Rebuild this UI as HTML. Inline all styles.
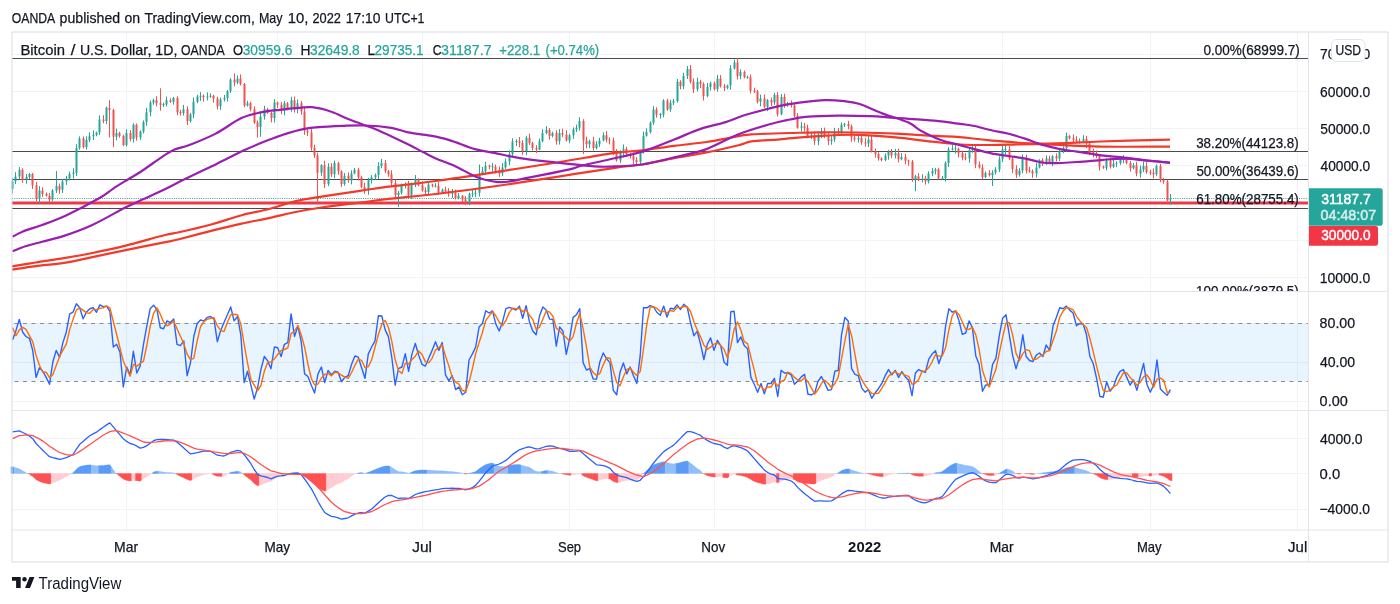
<!DOCTYPE html>
<html><head><meta charset="utf-8"><style>
html,body{margin:0;padding:0;background:#fff;width:1400px;height:604px;overflow:hidden}
svg{display:block;will-change:transform}
text{font-family:"Liberation Sans",sans-serif;stroke:currentColor;stroke-width:0.25px}
</style></head><body>
<svg width="1400" height="604" viewBox="0 0 1400 604">
<line x1="12" y1="54.5" x2="1308" y2="54.5" stroke="#f2f3f5" stroke-width="1"/>
<line x1="12" y1="91.5" x2="1308" y2="91.5" stroke="#f2f3f5" stroke-width="1"/>
<line x1="12" y1="128.5" x2="1308" y2="128.5" stroke="#f2f3f5" stroke-width="1"/>
<line x1="12" y1="165.5" x2="1308" y2="165.5" stroke="#f2f3f5" stroke-width="1"/>
<line x1="12" y1="202.5" x2="1308" y2="202.5" stroke="#f2f3f5" stroke-width="1"/>
<line x1="12" y1="240.5" x2="1308" y2="240.5" stroke="#f2f3f5" stroke-width="1"/>
<line x1="12" y1="277.5" x2="1308" y2="277.5" stroke="#f2f3f5" stroke-width="1"/>
<line x1="12" y1="323.5" x2="1308" y2="323.5" stroke="#f2f3f5" stroke-width="1"/>
<line x1="12" y1="362.5" x2="1308" y2="362.5" stroke="#f2f3f5" stroke-width="1"/>
<line x1="12" y1="401.5" x2="1308" y2="401.5" stroke="#f2f3f5" stroke-width="1"/>
<line x1="12" y1="438.5" x2="1308" y2="438.5" stroke="#f2f3f5" stroke-width="1"/>
<line x1="12" y1="473.5" x2="1308" y2="473.5" stroke="#f2f3f5" stroke-width="1"/>
<line x1="12" y1="509.5" x2="1308" y2="509.5" stroke="#f2f3f5" stroke-width="1"/>
<line x1="126.5" y1="32" x2="126.5" y2="530" stroke="#f2f3f5" stroke-width="1"/>
<line x1="277.5" y1="32" x2="277.5" y2="530" stroke="#f2f3f5" stroke-width="1"/>
<line x1="422.5" y1="32" x2="422.5" y2="530" stroke="#f2f3f5" stroke-width="1"/>
<line x1="569.5" y1="32" x2="569.5" y2="530" stroke="#f2f3f5" stroke-width="1"/>
<line x1="714.5" y1="32" x2="714.5" y2="530" stroke="#f2f3f5" stroke-width="1"/>
<line x1="865.5" y1="32" x2="865.5" y2="530" stroke="#f2f3f5" stroke-width="1"/>
<line x1="1002.5" y1="32" x2="1002.5" y2="530" stroke="#f2f3f5" stroke-width="1"/>
<line x1="1150.5" y1="32" x2="1150.5" y2="530" stroke="#f2f3f5" stroke-width="1"/>
<line x1="1297.5" y1="32" x2="1297.5" y2="530" stroke="#f2f3f5" stroke-width="1"/>
<rect x="12" y="323.2" width="1296" height="58.1" fill="#2196f3" fill-opacity="0.1"/>
<line x1="12" y1="323.5" x2="1308" y2="323.5" stroke="#8a8d96" stroke-width="1" stroke-dasharray="4 4.5" stroke-dashoffset="-2.5"/>
<line x1="12" y1="381.5" x2="1308" y2="381.5" stroke="#8a8d96" stroke-width="1" stroke-dasharray="4 4.5" stroke-dashoffset="-2.5"/>
<path d="M12.6 339.7 L16.0 330.4 L19.3 319.5 L22.7 332.2 L26.0 336.5 L29.4 338.3 L32.7 350.4 L36.1 377.4 L39.4 367.8 L42.8 371.3 L46.2 377.4 L49.5 384.3 L52.9 361.7 L56.2 350.4 L59.6 357.4 L62.9 342.6 L66.3 332.2 L69.7 313.9 L73.0 312.2 L76.4 303.8 L79.7 307.8 L83.1 318.8 L86.4 312.2 L89.8 308.7 L93.1 307.8 L96.5 312.2 L99.9 304.9 L103.2 306.6 L106.6 306.1 L109.9 311.3 L113.3 347.0 L116.6 344.3 L120.0 352.2 L123.3 387.0 L126.7 367.0 L130.1 374.8 L133.4 351.3 L136.8 373.0 L140.1 366.1 L143.5 344.3 L146.8 326.1 L150.2 308.7 L153.6 305.2 L156.9 309.6 L160.3 327.8 L163.6 328.7 L167.0 320.9 L170.3 322.6 L173.7 319.1 L177.0 344.3 L180.4 345.6 L183.8 340.9 L187.1 375.7 L190.5 362.6 L193.8 336.5 L197.2 323.5 L200.5 320.0 L203.9 320.9 L207.2 317.4 L210.6 316.5 L214.0 319.1 L217.3 341.7 L220.7 330.4 L224.0 322.6 L227.4 314.8 L230.7 307.0 L234.1 320.9 L237.5 316.5 L240.8 334.8 L244.2 382.6 L247.5 371.3 L250.9 385.2 L254.2 399.1 L257.6 387.8 L260.9 369.6 L264.3 356.5 L267.7 360.9 L271.0 368.7 L274.4 347.0 L277.7 347.8 L281.1 356.5 L284.4 344.3 L287.8 342.6 L291.1 313.9 L294.5 336.5 L297.9 326.1 L301.2 341.7 L304.6 373.9 L307.9 376.5 L311.3 385.2 L314.6 393.0 L318.0 373.9 L321.4 367.0 L324.7 382.6 L328.1 370.4 L331.4 374.8 L334.8 371.3 L338.1 372.2 L341.5 381.7 L344.8 377.4 L348.2 375.7 L351.6 364.3 L354.9 356.0 L358.3 357.2 L361.6 367.8 L365.0 378.3 L368.3 353.9 L371.7 347.0 L375.0 340.9 L378.4 315.7 L381.8 316.0 L385.1 329.6 L388.5 336.9 L391.8 357.4 L395.2 385.2 L398.5 368.7 L401.9 367.0 L405.3 353.6 L408.6 371.3 L412.0 353.9 L415.3 343.5 L418.7 355.3 L422.0 364.3 L425.4 366.1 L428.7 358.3 L432.1 350.4 L435.5 341.7 L438.8 350.4 L442.2 342.6 L445.5 374.8 L448.9 380.9 L452.2 375.7 L455.6 389.6 L458.9 387.0 L462.3 394.8 L465.7 392.2 L469.0 360.0 L472.4 353.9 L475.7 347.0 L479.1 327.0 L482.4 323.5 L485.8 310.8 L489.2 313.0 L492.5 310.8 L495.9 324.3 L499.2 331.0 L502.6 321.7 L505.9 308.7 L509.3 307.3 L512.6 308.7 L516.0 310.1 L519.4 306.1 L522.7 318.3 L526.1 305.6 L529.4 321.7 L532.8 331.0 L536.1 334.8 L539.5 316.0 L542.8 307.0 L546.2 310.1 L549.6 319.1 L552.9 319.5 L556.3 346.1 L559.6 327.0 L563.0 331.3 L566.3 354.3 L569.7 338.3 L573.1 317.4 L576.4 314.8 L579.8 308.7 L583.1 362.6 L586.5 370.0 L589.8 368.7 L593.2 379.1 L596.5 379.1 L599.9 361.7 L603.3 353.0 L606.6 358.8 L610.0 362.6 L613.3 390.4 L616.7 394.8 L620.0 372.2 L623.4 363.0 L626.7 373.9 L630.1 367.0 L633.5 375.7 L636.8 383.5 L640.2 355.7 L643.5 307.8 L646.9 307.8 L650.2 305.6 L653.6 307.0 L657.0 312.5 L660.3 315.3 L663.7 306.1 L667.0 317.0 L670.4 308.3 L673.7 309.0 L677.1 304.9 L680.4 309.6 L683.8 304.3 L687.2 307.0 L690.5 322.6 L693.9 335.7 L697.2 331.3 L700.6 344.4 L703.9 359.5 L707.3 344.3 L710.6 337.9 L714.0 350.4 L717.4 340.3 L720.7 345.6 L724.1 362.3 L727.4 365.2 L730.8 311.8 L734.1 311.3 L737.5 342.6 L740.9 336.9 L744.2 345.6 L747.6 348.7 L750.9 377.4 L754.3 384.3 L757.6 392.2 L761.0 383.5 L764.3 393.9 L767.7 383.5 L771.1 383.5 L774.4 378.3 L777.8 396.5 L781.1 370.4 L784.5 373.0 L787.8 373.0 L791.2 374.8 L794.5 384.3 L797.9 380.9 L801.3 376.9 L804.6 374.4 L808.0 394.3 L811.3 394.8 L814.7 393.0 L818.0 381.3 L821.4 376.5 L824.8 383.1 L828.1 390.4 L831.5 389.6 L834.8 371.3 L838.2 370.4 L841.5 334.8 L844.9 317.4 L848.2 320.9 L851.6 368.7 L855.0 374.4 L858.3 375.7 L861.7 387.8 L865.0 392.2 L868.4 389.6 L871.7 398.3 L875.1 393.0 L878.4 388.7 L881.8 383.5 L885.2 375.7 L888.5 369.6 L891.9 374.8 L895.2 370.4 L898.6 377.4 L901.9 371.7 L905.3 376.9 L908.7 380.3 L912.0 395.7 L915.4 373.0 L918.7 369.6 L922.1 371.3 L925.4 372.2 L928.8 359.1 L932.1 354.1 L935.5 350.8 L938.9 363.5 L942.2 353.9 L945.6 326.1 L948.9 308.7 L952.3 312.2 L955.6 310.8 L959.0 320.9 L962.3 334.4 L965.7 333.0 L969.1 320.9 L972.4 327.8 L975.8 356.0 L979.1 364.3 L982.5 391.3 L985.8 384.9 L989.2 385.2 L992.6 364.3 L995.9 358.3 L999.3 335.7 L1002.6 318.3 L1006.0 314.8 L1009.3 334.8 L1012.7 355.7 L1016.0 368.7 L1019.4 357.4 L1022.8 334.8 L1026.1 356.5 L1029.5 360.5 L1032.8 361.7 L1036.2 355.3 L1039.5 353.0 L1042.9 356.5 L1046.2 345.0 L1049.6 350.4 L1053.0 326.1 L1056.3 317.4 L1059.7 307.8 L1063.0 308.7 L1066.4 306.1 L1069.7 310.1 L1073.1 313.0 L1076.5 325.7 L1079.8 323.5 L1083.2 324.3 L1086.5 334.8 L1089.9 356.5 L1093.2 363.5 L1096.6 378.3 L1099.9 396.5 L1103.3 397.0 L1106.7 381.7 L1110.0 391.3 L1113.4 387.0 L1116.7 377.4 L1120.1 371.3 L1123.4 369.6 L1126.8 377.4 L1130.1 385.2 L1133.5 380.0 L1136.9 390.4 L1140.2 376.5 L1143.6 363.5 L1146.9 384.3 L1150.3 392.2 L1153.6 385.0 L1157.0 360.0 L1160.4 389.0 L1163.7 392.2 L1167.1 395.3 L1170.4 389.6" stroke="#2962ff" stroke-width="1.4" fill="none" stroke-linejoin="round"/>
<path d="M12.6 327.8 L16.0 335.7 L19.3 329.9 L22.7 327.4 L26.0 329.4 L29.4 335.7 L32.7 341.7 L36.1 355.4 L39.4 365.2 L42.8 372.2 L46.2 372.2 L49.5 377.7 L52.9 374.5 L56.2 365.5 L59.6 356.5 L62.9 350.1 L66.3 344.1 L69.7 329.6 L73.0 319.4 L76.4 310.0 L79.7 307.9 L83.1 310.1 L86.4 312.9 L89.8 313.2 L93.1 309.6 L96.5 309.6 L99.9 308.3 L103.2 307.9 L106.6 305.9 L109.9 308.0 L113.3 321.5 L116.6 334.2 L120.0 347.8 L123.3 361.2 L126.7 368.7 L130.1 376.3 L133.4 364.4 L136.8 366.4 L140.1 363.5 L143.5 361.1 L146.8 345.5 L150.2 326.4 L153.6 313.3 L156.9 307.8 L160.3 314.2 L163.6 322.0 L167.0 325.8 L170.3 324.1 L173.7 320.9 L177.0 328.7 L180.4 336.3 L183.8 343.6 L187.1 354.1 L190.5 359.7 L193.8 358.3 L197.2 340.9 L200.5 326.7 L203.9 321.5 L207.2 319.4 L210.6 318.3 L214.0 317.7 L217.3 325.8 L220.7 330.4 L224.0 331.6 L227.4 322.6 L230.7 314.8 L234.1 314.2 L237.5 314.8 L240.8 324.1 L244.2 344.6 L247.5 362.9 L250.9 379.7 L254.2 385.2 L257.6 390.7 L260.9 385.5 L264.3 371.3 L267.7 362.3 L271.0 362.0 L274.4 358.9 L277.7 354.5 L281.1 350.4 L284.4 349.5 L287.8 347.8 L291.1 333.6 L294.5 331.0 L297.9 325.5 L301.2 334.8 L304.6 347.2 L307.9 364.0 L311.3 378.5 L314.6 384.9 L318.0 384.0 L321.4 378.0 L324.7 374.5 L328.1 373.3 L331.4 375.9 L334.8 372.2 L338.1 372.8 L341.5 375.1 L344.8 377.1 L348.2 378.3 L351.6 372.5 L354.9 365.3 L358.3 359.2 L361.6 360.3 L365.0 367.8 L368.3 366.7 L371.7 359.7 L375.0 347.3 L378.4 334.5 L381.8 324.2 L385.1 320.4 L388.5 327.5 L391.8 341.3 L395.2 359.8 L398.5 370.4 L401.9 373.6 L405.3 363.1 L408.6 364.0 L412.0 359.6 L415.3 356.2 L418.7 350.9 L422.0 354.4 L425.4 361.9 L428.7 362.9 L432.1 358.3 L435.5 350.1 L438.8 347.5 L442.2 344.9 L445.5 355.9 L448.9 366.1 L452.2 377.1 L455.6 382.1 L458.9 384.1 L462.3 390.5 L465.7 391.3 L469.0 382.3 L472.4 368.7 L475.7 353.6 L479.1 342.6 L482.4 332.5 L485.8 320.4 L489.2 315.8 L492.5 311.5 L495.9 316.0 L499.2 322.0 L502.6 325.7 L505.9 320.5 L509.3 312.6 L512.6 308.2 L516.0 308.7 L519.4 308.3 L522.7 311.5 L526.1 310.0 L529.4 315.2 L532.8 319.4 L536.1 329.2 L539.5 327.3 L542.8 319.3 L546.2 311.0 L549.6 312.1 L552.9 316.2 L556.3 328.2 L559.6 330.9 L563.0 334.8 L566.3 337.5 L569.7 341.3 L573.1 336.7 L576.4 323.5 L579.8 313.6 L583.1 328.7 L586.5 347.1 L589.8 367.1 L593.2 372.6 L596.5 375.6 L599.9 373.3 L603.3 364.6 L606.6 357.8 L610.0 358.1 L613.3 370.6 L616.7 382.6 L620.0 385.8 L623.4 376.7 L626.7 369.7 L630.1 368.0 L633.5 372.2 L636.8 375.4 L640.2 371.6 L643.5 349.0 L646.9 323.8 L650.2 307.1 L653.6 306.8 L657.0 308.4 L660.3 311.6 L663.7 311.3 L667.0 312.8 L670.4 310.5 L673.7 311.4 L677.1 307.4 L680.4 307.8 L683.8 306.3 L687.2 307.0 L690.5 311.3 L693.9 321.8 L697.2 329.9 L700.6 337.1 L703.9 345.1 L707.3 349.4 L710.6 347.2 L714.0 344.2 L717.4 342.9 L720.7 345.4 L724.1 349.4 L727.4 357.7 L730.8 346.4 L734.1 329.4 L737.5 321.9 L740.9 330.3 L744.2 341.7 L747.6 343.7 L750.9 357.2 L754.3 370.1 L757.6 384.6 L761.0 386.7 L764.3 389.9 L767.7 387.0 L771.1 387.0 L774.4 381.8 L777.8 386.1 L781.1 381.7 L784.5 380.0 L787.8 372.1 L791.2 373.6 L794.5 377.4 L797.9 380.0 L801.3 380.7 L804.6 377.4 L808.0 381.9 L811.3 387.8 L814.7 394.0 L818.0 389.7 L821.4 383.6 L824.8 380.3 L828.1 383.3 L831.5 387.7 L834.8 383.8 L838.2 377.1 L841.5 358.8 L844.9 340.9 L848.2 324.4 L851.6 335.7 L855.0 354.7 L858.3 372.9 L861.7 379.3 L865.0 385.2 L868.4 389.9 L871.7 393.4 L875.1 393.6 L878.4 393.3 L881.8 388.4 L885.2 382.6 L888.5 376.3 L891.9 373.4 L895.2 371.6 L898.6 374.2 L901.9 373.2 L905.3 375.3 L908.7 376.3 L912.0 384.3 L915.4 383.0 L918.7 379.4 L922.1 371.3 L925.4 371.0 L928.8 367.5 L932.1 361.8 L935.5 354.7 L938.9 356.1 L942.2 356.1 L945.6 347.8 L948.9 329.6 L952.3 315.7 L955.6 310.6 L959.0 314.6 L962.3 322.0 L965.7 329.4 L969.1 329.4 L972.4 327.2 L975.8 334.9 L979.1 349.4 L982.5 370.5 L985.8 380.2 L989.2 387.1 L992.6 378.1 L995.9 369.3 L999.3 352.8 L1002.6 337.4 L1006.0 322.9 L1009.3 322.6 L1012.7 335.1 L1016.0 353.1 L1019.4 360.6 L1022.8 353.6 L1026.1 349.6 L1029.5 350.6 L1032.8 359.6 L1036.2 359.2 L1039.5 356.7 L1042.9 354.9 L1046.2 351.5 L1049.6 350.6 L1053.0 340.5 L1056.3 331.3 L1059.7 317.1 L1063.0 311.3 L1066.4 307.5 L1069.7 308.3 L1073.1 309.7 L1076.5 316.3 L1079.8 320.7 L1083.2 324.5 L1086.5 327.5 L1089.9 338.5 L1093.2 351.6 L1096.6 366.1 L1099.9 379.4 L1103.3 390.6 L1106.7 391.7 L1110.0 390.0 L1113.4 386.7 L1116.7 385.2 L1120.1 378.6 L1123.4 372.8 L1126.8 372.8 L1130.1 377.4 L1133.5 380.9 L1136.9 385.2 L1140.2 382.3 L1143.6 376.8 L1146.9 374.8 L1150.3 380.0 L1153.6 387.2 L1157.0 379.1 L1160.4 378.0 L1163.7 380.4 L1167.1 392.2 L1170.4 392.4" stroke="#ff6d00" stroke-width="1.4" fill="none" stroke-linejoin="round"/>
<path d="M10.92 473.5L10.92 466.73L12.60 466.73L14.28 467.21L14.28 473.5ZM71.33 473.5L71.33 473.50L73.01 472.82L74.69 471.01L74.69 473.5ZM74.69 473.5L74.69 471.01L76.36 469.19L78.04 467.84L78.04 473.5ZM78.04 473.5L78.04 467.84L79.72 466.48L81.40 466.10L81.40 473.5ZM81.40 473.5L81.40 466.10L83.08 465.72L84.75 465.41L84.75 473.5ZM84.75 473.5L84.75 465.41L86.43 465.10L88.11 464.95L88.11 473.5ZM88.11 473.5L88.11 464.95L89.79 464.80L91.47 465.02L91.47 473.5ZM98.18 473.5L98.18 465.73L99.86 465.59L101.53 465.49L101.53 473.5ZM101.53 473.5L101.53 465.49L103.21 465.39L104.89 465.22L104.89 473.5ZM104.89 473.5L104.89 465.22L106.57 465.05L108.25 464.87L108.25 473.5ZM108.25 473.5L108.25 464.87L109.92 464.70L111.60 467.16L111.60 473.5ZM151.87 473.5L151.87 473.16L153.55 471.95L155.23 471.54L155.23 473.5ZM155.23 473.5L155.23 471.54L156.91 471.13L158.59 471.26L158.59 473.5ZM229.06 473.5L229.06 473.20L230.74 472.20L232.42 471.94L232.42 473.5ZM232.42 473.5L232.42 471.94L234.10 471.69L235.77 471.44L235.77 473.5ZM235.77 473.5L235.77 471.44L237.45 471.19L239.13 471.55L239.13 473.5ZM289.47 473.5L289.47 473.38L291.15 472.84L292.83 472.71L292.83 473.5ZM292.83 473.5L292.83 472.71L294.50 472.58L296.18 472.50L296.18 473.5ZM296.18 473.5L296.18 472.50L297.86 472.43L299.54 473.15L299.54 473.5ZM356.59 473.5L356.59 473.50L358.27 472.93L359.95 472.77L359.95 473.5ZM359.95 473.5L359.95 472.77L361.62 472.60L363.30 472.99L363.30 473.5ZM366.66 473.5L366.66 472.82L368.34 472.27L370.01 471.64L370.01 473.5ZM370.01 473.5L370.01 471.64L371.69 471.00L373.37 470.30L373.37 473.5ZM373.37 473.5L373.37 470.30L375.05 469.59L376.73 468.86L376.73 473.5ZM376.73 473.5L376.73 468.86L378.40 468.13L380.08 467.57L380.08 473.5ZM380.08 473.5L380.08 467.57L381.76 467.01L383.44 466.49L383.44 473.5ZM383.44 473.5L383.44 466.49L385.12 465.96L386.79 465.89L386.79 473.5ZM386.79 473.5L386.79 465.89L388.47 465.83L390.15 466.62L390.15 473.5ZM410.29 473.5L410.29 472.65L411.96 472.06L413.64 471.36L413.64 473.5ZM413.64 473.5L413.64 471.36L415.32 470.66L417.00 470.42L417.00 473.5ZM417.00 473.5L417.00 470.42L418.68 470.18L420.35 470.10L420.35 473.5ZM420.35 473.5L420.35 470.10L422.03 470.01L423.71 469.99L423.71 473.5ZM423.71 473.5L423.71 469.99L425.39 469.98L427.07 470.04L427.07 473.5ZM467.34 473.5L467.34 473.50L469.02 473.34L470.69 472.96L470.69 473.5ZM470.69 473.5L470.69 472.96L472.37 472.57L474.05 472.02L474.05 473.5ZM474.05 473.5L474.05 472.02L475.73 471.47L477.41 470.11L477.41 473.5ZM477.41 473.5L477.41 470.11L479.08 468.74L480.76 467.61L480.76 473.5ZM480.76 473.5L480.76 467.61L482.44 466.48L484.12 465.48L484.12 473.5ZM484.12 473.5L484.12 465.48L485.80 464.48L487.47 463.99L487.47 473.5ZM487.47 473.5L487.47 463.99L489.15 463.49L490.83 463.23L490.83 473.5ZM490.83 473.5L490.83 463.23L492.51 462.98L494.19 463.91L494.19 473.5ZM507.61 473.5L507.61 466.07L509.29 465.59L510.97 465.17L510.97 473.5ZM510.97 473.5L510.97 465.17L512.64 464.74L514.32 464.65L514.32 473.5ZM514.32 473.5L514.32 464.65L516.00 464.55L517.68 464.52L517.68 473.5ZM517.68 473.5L517.68 464.52L519.36 464.50L521.03 465.04L521.03 473.5ZM541.17 473.5L541.17 471.41L542.85 471.13L544.53 470.79L544.53 473.5ZM544.53 473.5L544.53 470.79L546.20 470.46L547.88 470.55L547.88 473.5ZM641.85 473.5L641.85 473.50L643.53 473.49L645.21 471.98L645.21 473.5ZM645.21 473.5L645.21 471.98L646.88 470.46L648.56 469.02L648.56 473.5ZM648.56 473.5L648.56 469.02L650.24 467.59L651.92 466.23L651.92 473.5ZM651.92 473.5L651.92 466.23L653.60 464.86L655.27 464.19L655.27 473.5ZM655.27 473.5L655.27 464.19L656.95 463.52L658.63 463.02L658.63 473.5ZM658.63 473.5L658.63 463.02L660.31 462.52L661.99 462.09L661.99 473.5ZM661.99 473.5L661.99 462.09L663.66 461.66L665.34 462.06L665.34 473.5ZM675.41 473.5L675.41 463.59L677.09 463.26L678.77 462.92L678.77 473.5ZM678.77 473.5L678.77 462.92L680.44 462.59L682.12 462.04L682.12 473.5ZM682.12 473.5L682.12 462.04L683.80 461.49L685.48 461.18L685.48 473.5ZM685.48 473.5L685.48 461.18L687.16 460.87L688.83 461.97L688.83 473.5ZM836.50 473.5L836.50 473.50L838.18 472.82L839.85 471.69L839.85 473.5ZM839.85 473.5L839.85 471.69L841.53 470.55L843.21 469.93L843.21 473.5ZM843.21 473.5L843.21 469.93L844.89 469.31L846.57 468.98L846.57 473.5ZM846.57 473.5L846.57 468.98L848.24 468.64L849.92 469.29L849.92 473.5ZM896.91 473.5L896.91 473.50L898.58 473.47L900.26 473.43L900.26 473.5ZM900.26 473.5L900.26 473.43L901.94 473.39L903.62 473.36L903.62 473.5ZM903.62 473.5L903.62 473.36L905.30 473.34L906.97 473.15L906.97 473.5ZM906.97 473.5L906.97 473.15L908.65 472.97L910.33 473.50L910.33 473.5ZM933.82 473.5L933.82 473.44L935.50 472.77L937.18 472.59L937.18 473.5ZM937.18 473.5L937.18 472.59L938.86 472.42L940.53 472.01L940.53 473.5ZM940.53 473.5L940.53 472.01L942.21 471.60L943.89 470.27L943.89 473.5ZM943.89 473.5L943.89 470.27L945.57 468.94L947.25 467.69L947.25 473.5ZM947.25 473.5L947.25 467.69L948.92 466.44L950.60 465.46L950.60 473.5ZM950.60 473.5L950.60 465.46L952.28 464.47L953.96 463.77L953.96 473.5ZM953.96 473.5L953.96 463.77L955.64 463.08L957.31 463.46L957.31 473.5ZM997.59 473.5L997.59 473.50L999.26 473.31L1000.94 472.27L1000.94 473.5ZM1000.94 473.5L1000.94 472.27L1002.62 471.23L1004.30 470.14L1004.30 473.5ZM1004.30 473.5L1004.30 470.14L1005.98 469.05L1007.65 469.32L1007.65 473.5ZM1037.86 473.5L1037.86 473.50L1039.54 473.43L1041.21 473.15L1041.21 473.5ZM1041.21 473.5L1041.21 473.15L1042.89 472.87L1044.57 472.65L1044.57 473.5ZM1044.57 473.5L1044.57 472.65L1046.25 472.43L1047.93 472.18L1047.93 473.5ZM1047.93 473.5L1047.93 472.18L1049.60 471.93L1051.28 471.78L1051.28 473.5ZM1051.28 473.5L1051.28 471.78L1052.96 471.64L1054.64 471.45L1054.64 473.5ZM1054.64 473.5L1054.64 471.45L1056.32 471.25L1057.99 470.79L1057.99 473.5ZM1057.99 473.5L1057.99 470.79L1059.67 470.33L1061.35 469.82L1061.35 473.5ZM1061.35 473.5L1061.35 469.82L1063.03 469.30L1064.71 468.58L1064.71 473.5ZM1064.71 473.5L1064.71 468.58L1066.38 467.86L1068.06 467.48L1068.06 473.5ZM1068.06 473.5L1068.06 467.48L1069.74 467.10L1071.42 467.02L1071.42 473.5ZM1071.42 473.5L1071.42 467.02L1073.10 466.94L1074.77 467.50L1074.77 473.5Z" fill="#5b9cf6" stroke="#5b9cf6" stroke-width="0.3"/>
<path d="M14.28 473.5L14.28 467.21L15.96 467.70L17.63 468.21L17.63 473.5ZM17.63 473.5L17.63 468.21L19.31 468.72L20.99 469.71L20.99 473.5ZM20.99 473.5L20.99 469.71L22.67 470.70L24.35 471.69L24.35 473.5ZM24.35 473.5L24.35 471.69L26.02 472.68L27.70 473.47L27.70 473.5ZM91.47 473.5L91.47 465.02L93.14 465.24L94.82 465.55L94.82 473.5ZM94.82 473.5L94.82 465.55L96.50 465.86L98.18 465.73L98.18 473.5ZM111.60 473.5L111.60 467.16L113.28 469.61L114.96 471.68L114.96 473.5ZM158.59 473.5L158.59 471.26L160.26 471.39L161.94 471.66L161.94 473.5ZM161.94 473.5L161.94 471.66L163.62 471.94L165.30 472.24L165.30 473.5ZM165.30 473.5L165.30 472.24L166.98 472.54L168.65 472.58L168.65 473.5ZM168.65 473.5L168.65 472.58L170.33 472.62L172.01 472.66L172.01 473.5ZM172.01 473.5L172.01 472.66L173.69 472.70L175.37 473.50L175.37 473.5ZM239.13 473.5L239.13 471.55L240.81 471.92L242.49 473.38L242.49 473.5ZM363.30 473.5L363.30 472.99L364.98 473.37L366.66 472.82L366.66 473.5ZM390.15 473.5L390.15 466.62L391.83 467.42L393.51 468.57L393.51 473.5ZM393.51 473.5L393.51 468.57L395.18 469.73L396.86 470.64L396.86 473.5ZM396.86 473.5L396.86 470.64L398.54 471.55L400.22 471.64L400.22 473.5ZM400.22 473.5L400.22 471.64L401.90 471.74L403.57 472.00L403.57 473.5ZM403.57 473.5L403.57 472.00L405.25 472.26L406.93 472.75L406.93 473.5ZM406.93 473.5L406.93 472.75L408.61 473.24L410.29 472.65L410.29 473.5ZM427.07 473.5L427.07 470.04L428.74 470.11L430.42 470.21L430.42 473.5ZM430.42 473.5L430.42 470.21L432.10 470.32L433.78 470.43L433.78 473.5ZM433.78 473.5L433.78 470.43L435.46 470.55L437.13 470.67L437.13 473.5ZM437.13 473.5L437.13 470.67L438.81 470.79L440.49 470.79L440.49 473.5ZM440.49 473.5L440.49 470.79L442.17 470.79L443.85 470.91L443.85 473.5ZM443.85 473.5L443.85 470.91L445.52 471.04L447.20 471.24L447.20 473.5ZM447.20 473.5L447.20 471.24L448.88 471.45L450.56 471.52L450.56 473.5ZM450.56 473.5L450.56 471.52L452.24 471.59L453.91 471.80L453.91 473.5ZM453.91 473.5L453.91 471.80L455.59 472.00L457.27 472.24L457.27 473.5ZM457.27 473.5L457.27 472.24L458.95 472.47L460.63 472.86L460.63 473.5ZM460.63 473.5L460.63 472.86L462.30 473.25L463.98 473.50L463.98 473.5ZM494.19 473.5L494.19 463.91L495.86 464.84L497.54 465.60L497.54 473.5ZM497.54 473.5L497.54 465.60L499.22 466.35L500.90 466.44L500.90 473.5ZM500.90 473.5L500.90 466.44L502.58 466.53L504.25 466.54L504.25 473.5ZM504.25 473.5L504.25 466.54L505.93 466.55L507.61 466.07L507.61 473.5ZM521.03 473.5L521.03 465.04L522.71 465.59L524.39 465.99L524.39 473.5ZM524.39 473.5L524.39 465.99L526.07 466.40L527.75 466.79L527.75 473.5ZM527.75 473.5L527.75 466.79L529.42 467.18L531.10 468.33L531.10 473.5ZM531.10 473.5L531.10 468.33L532.78 469.47L534.46 470.47L534.46 473.5ZM534.46 473.5L534.46 470.47L536.14 471.47L537.81 471.58L537.81 473.5ZM537.81 473.5L537.81 471.58L539.49 471.70L541.17 471.41L541.17 473.5ZM547.88 473.5L547.88 470.55L549.56 470.64L551.24 470.97L551.24 473.5ZM551.24 473.5L551.24 470.97L552.92 471.31L554.59 471.90L554.59 473.5ZM554.59 473.5L554.59 471.90L556.27 472.49L557.95 472.99L557.95 473.5ZM557.95 473.5L557.95 472.99L559.63 473.49L561.31 473.50L561.31 473.5ZM665.34 473.5L665.34 462.06L667.02 462.46L668.70 462.94L668.70 473.5ZM668.70 473.5L668.70 462.94L670.38 463.42L672.05 463.67L672.05 473.5ZM672.05 473.5L672.05 463.67L673.73 463.92L675.41 463.59L675.41 473.5ZM688.83 473.5L688.83 461.97L690.51 463.07L692.19 464.35L692.19 473.5ZM692.19 473.5L692.19 464.35L693.87 465.63L695.55 467.07L695.55 473.5ZM695.55 473.5L695.55 467.07L697.22 468.51L698.90 469.60L698.90 473.5ZM698.90 473.5L698.90 469.60L700.58 470.68L702.26 472.17L702.26 473.5ZM849.92 473.5L849.92 469.29L851.60 469.94L853.28 470.48L853.28 473.5ZM853.28 473.5L853.28 470.48L854.96 471.02L856.63 471.56L856.63 473.5ZM856.63 473.5L856.63 471.56L858.31 472.10L859.99 472.55L859.99 473.5ZM859.99 473.5L859.99 472.55L861.67 473.00L863.35 473.19L863.35 473.5ZM863.35 473.5L863.35 473.19L865.02 473.38L866.70 473.50L866.70 473.5ZM957.31 473.5L957.31 463.46L958.99 463.84L960.67 464.22L960.67 473.5ZM960.67 473.5L960.67 464.22L962.35 464.59L964.03 464.92L964.03 473.5ZM964.03 473.5L964.03 464.92L965.70 465.25L967.38 465.49L967.38 473.5ZM967.38 473.5L967.38 465.49L969.06 465.73L970.74 466.12L970.74 473.5ZM970.74 473.5L970.74 466.12L972.42 466.51L974.09 467.53L974.09 473.5ZM974.09 473.5L974.09 467.53L975.77 468.55L977.45 469.94L977.45 473.5ZM977.45 473.5L977.45 469.94L979.13 471.32L980.81 472.43L980.81 473.5ZM1007.65 473.5L1007.65 469.32L1009.33 469.59L1011.01 470.33L1011.01 473.5ZM1011.01 473.5L1011.01 470.33L1012.69 471.06L1014.37 472.32L1014.37 473.5ZM1074.77 473.5L1074.77 467.50L1076.45 468.05L1078.13 468.51L1078.13 473.5ZM1078.13 473.5L1078.13 468.51L1079.81 468.97L1081.49 469.38L1081.49 473.5ZM1081.49 473.5L1081.49 469.38L1083.16 469.80L1084.84 470.33L1084.84 473.5ZM1084.84 473.5L1084.84 470.33L1086.52 470.86L1088.20 471.50L1088.20 473.5ZM1088.20 473.5L1088.20 471.50L1089.88 472.14L1091.55 473.00L1091.55 473.5Z" fill="#91bff9" stroke="#91bff9" stroke-width="0.3"/>
<path d="M27.70 473.5L27.70 473.50L29.38 474.27L31.06 475.38L31.06 473.5ZM31.06 473.5L31.06 475.38L32.74 476.50L34.41 478.08L34.41 473.5ZM34.41 473.5L34.41 478.08L36.09 479.66L37.77 480.58L37.77 473.5ZM37.77 473.5L37.77 480.58L39.45 481.51L41.13 482.12L41.13 473.5ZM41.13 473.5L41.13 482.12L42.80 482.74L44.48 483.12L44.48 473.5ZM44.48 473.5L44.48 483.12L46.16 483.49L47.84 483.76L47.84 473.5ZM47.84 473.5L47.84 483.76L49.52 484.03L51.19 483.41L51.19 473.5ZM114.96 473.5L114.96 473.50L116.64 473.75L118.31 475.10L118.31 473.5ZM118.31 473.5L118.31 475.10L119.99 476.46L121.67 477.82L121.67 473.5ZM121.67 473.5L121.67 477.82L123.35 479.18L125.03 479.80L125.03 473.5ZM125.03 473.5L125.03 479.80L126.70 480.42L128.38 480.75L128.38 473.5ZM128.38 473.5L128.38 480.75L130.06 481.09L131.74 480.79L131.74 473.5ZM135.09 473.5L135.09 480.61L136.77 480.74L138.45 480.94L138.45 473.5ZM138.45 473.5L138.45 480.94L140.13 481.14L141.81 479.99L141.81 473.5ZM175.37 473.5L175.37 473.63L177.04 474.55L178.72 475.39L178.72 473.5ZM178.72 473.5L178.72 475.39L180.40 476.23L182.08 477.03L182.08 473.5ZM182.08 473.5L182.08 477.03L183.76 477.84L185.43 478.64L185.43 473.5ZM185.43 473.5L185.43 478.64L187.11 479.45L188.79 480.12L188.79 473.5ZM188.79 473.5L188.79 480.12L190.47 480.78L192.15 479.75L192.15 473.5ZM212.28 473.5L212.28 474.28L213.96 474.97L215.64 475.65L215.64 473.5ZM215.64 473.5L215.64 475.65L217.32 476.34L218.99 476.36L218.99 473.5ZM218.99 473.5L218.99 476.36L220.67 476.38L222.35 476.31L222.35 473.5ZM242.49 473.5L242.49 473.50L244.16 474.85L245.84 476.19L245.84 473.5ZM245.84 473.5L245.84 476.19L247.52 477.53L249.20 478.82L249.20 473.5ZM249.20 473.5L249.20 478.82L250.88 480.11L252.55 481.85L252.55 473.5ZM252.55 473.5L252.55 481.85L254.23 483.59L255.91 484.73L255.91 473.5ZM255.91 473.5L255.91 484.73L257.59 485.87L259.27 485.40L259.27 473.5ZM299.54 473.5L299.54 473.50L301.22 473.88L302.89 475.15L302.89 473.5ZM302.89 473.5L302.89 475.15L304.57 476.43L306.25 477.83L306.25 473.5ZM306.25 473.5L306.25 477.83L307.93 479.23L309.61 480.61L309.61 473.5ZM309.61 473.5L309.61 480.61L311.28 482.00L312.96 483.25L312.96 473.5ZM312.96 473.5L312.96 483.25L314.64 484.51L316.32 486.03L316.32 473.5ZM316.32 473.5L316.32 486.03L318.00 487.56L319.67 488.65L319.67 473.5ZM319.67 473.5L319.67 488.65L321.35 489.73L323.03 490.48L323.03 473.5ZM323.03 473.5L323.03 490.48L324.71 491.23L326.39 490.40L326.39 473.5ZM463.98 473.5L463.98 473.71L465.66 474.16L467.34 473.75L467.34 473.5ZM561.31 473.5L561.31 473.79L562.98 474.08L564.66 474.39L564.66 473.5ZM564.66 473.5L564.66 474.39L566.34 474.70L568.02 475.00L568.02 473.5ZM568.02 473.5L568.02 475.00L569.70 475.30L571.37 475.12L571.37 473.5ZM581.44 473.5L581.44 474.74L583.12 475.73L584.80 476.49L584.80 473.5ZM584.80 473.5L584.80 476.49L586.48 477.24L588.15 477.86L588.15 473.5ZM588.15 473.5L588.15 477.86L589.83 478.47L591.51 479.08L591.51 473.5ZM591.51 473.5L591.51 479.08L593.19 479.69L594.87 480.36L594.87 473.5ZM594.87 473.5L594.87 480.36L596.54 481.03L598.22 480.55L598.22 473.5ZM608.29 473.5L608.29 478.90L609.97 479.06L611.65 480.29L611.65 473.5ZM611.65 473.5L611.65 480.29L613.32 481.52L615.00 482.08L615.00 473.5ZM615.00 473.5L615.00 482.08L616.68 482.64L618.36 482.41L618.36 473.5ZM702.26 473.5L702.26 473.50L703.94 473.65L705.61 474.65L705.61 473.5ZM705.61 473.5L705.61 474.65L707.29 475.65L708.97 476.05L708.97 473.5ZM708.97 473.5L708.97 476.05L710.65 476.45L712.33 476.73L712.33 473.5ZM712.33 473.5L712.33 476.73L714.00 477.01L715.68 476.88L715.68 473.5ZM722.39 473.5L722.39 477.11L724.07 477.70L725.75 477.87L725.75 473.5ZM725.75 473.5L725.75 477.87L727.43 478.05L729.11 476.70L729.11 473.5ZM735.82 473.5L735.82 474.52L737.50 474.95L739.17 475.24L739.17 473.5ZM739.17 473.5L739.17 475.24L740.85 475.53L742.53 475.93L742.53 473.5ZM742.53 473.5L742.53 475.93L744.21 476.33L745.89 476.96L745.89 473.5ZM745.89 473.5L745.89 476.96L747.56 477.59L749.24 478.56L749.24 473.5ZM749.24 473.5L749.24 478.56L750.92 479.53L752.60 480.47L752.60 473.5ZM752.60 473.5L752.60 480.47L754.28 481.41L755.95 482.02L755.95 473.5ZM755.95 473.5L755.95 482.02L757.63 482.63L759.31 483.07L759.31 473.5ZM759.31 473.5L759.31 483.07L760.99 483.51L762.67 483.89L762.67 473.5ZM762.67 473.5L762.67 483.89L764.34 484.27L766.02 484.20L766.02 473.5ZM776.09 473.5L776.09 482.23L777.77 482.79L779.45 481.98L779.45 473.5ZM792.87 473.5L792.87 479.13L794.55 479.67L796.23 480.82L796.23 473.5ZM796.23 473.5L796.23 480.82L797.90 481.97L799.58 482.36L799.58 473.5ZM799.58 473.5L799.58 482.36L801.26 482.75L802.94 483.12L802.94 473.5ZM802.94 473.5L802.94 483.12L804.62 483.48L806.29 483.55L806.29 473.5ZM806.29 473.5L806.29 483.55L807.97 483.62L809.65 483.76L809.65 473.5ZM809.65 473.5L809.65 483.76L811.33 483.89L813.01 483.91L813.01 473.5ZM813.01 473.5L813.01 483.91L814.68 483.92L816.36 482.93L816.36 473.5ZM866.70 473.5L866.70 473.61L868.38 473.85L870.06 474.33L870.06 473.5ZM870.06 473.5L870.06 474.33L871.74 474.81L873.41 475.17L873.41 473.5ZM873.41 473.5L873.41 475.17L875.09 475.53L876.77 475.91L876.77 473.5ZM876.77 473.5L876.77 475.91L878.45 476.30L880.13 476.52L880.13 473.5ZM880.13 473.5L880.13 476.52L881.80 476.74L883.48 476.50L883.48 473.5ZM910.33 473.5L910.33 473.82L912.01 474.68L913.69 475.20L913.69 473.5ZM913.69 473.5L913.69 475.20L915.36 475.72L917.04 476.03L917.04 473.5ZM917.04 473.5L917.04 476.03L918.72 476.34L920.40 476.34L920.40 473.5ZM920.40 473.5L920.40 476.34L922.08 476.34L923.75 476.21L923.75 473.5ZM980.81 473.5L980.81 473.50L982.48 473.53L984.16 474.11L984.16 473.5ZM984.16 473.5L984.16 474.11L985.84 474.69L987.52 475.13L987.52 473.5ZM987.52 473.5L987.52 475.13L989.20 475.57L990.87 475.58L990.87 473.5ZM990.87 473.5L990.87 475.58L992.55 475.59L994.23 475.47L994.23 473.5ZM1014.37 473.5L1014.37 473.50L1016.04 473.59L1017.72 473.88L1017.72 473.5ZM1017.72 473.5L1017.72 473.88L1019.40 474.17L1021.08 473.85L1021.08 473.5ZM1024.43 473.5L1024.43 473.60L1026.11 473.67L1027.79 473.80L1027.79 473.5ZM1027.79 473.5L1027.79 473.80L1029.47 473.93L1031.15 474.18L1031.15 473.5ZM1031.15 473.5L1031.15 474.18L1032.82 474.43L1034.50 474.29L1034.50 473.5ZM1091.55 473.5L1091.55 473.50L1093.23 473.85L1094.91 474.58L1094.91 473.5ZM1094.91 473.5L1094.91 474.58L1096.59 475.30L1098.27 476.54L1098.27 473.5ZM1098.27 473.5L1098.27 476.54L1099.94 477.77L1101.62 478.38L1101.62 473.5ZM1101.62 473.5L1101.62 478.38L1103.30 478.99L1104.98 479.39L1104.98 473.5ZM1104.98 473.5L1104.98 479.39L1106.66 479.79L1108.33 479.61L1108.33 473.5ZM1131.83 473.5L1131.83 476.74L1133.50 476.92L1135.18 477.00L1135.18 473.5ZM1135.18 473.5L1135.18 477.00L1136.86 477.08L1138.54 476.87L1138.54 473.5ZM1148.61 473.5L1148.61 476.01L1150.28 476.07L1151.96 475.75L1151.96 473.5ZM1158.67 473.5L1158.67 474.90L1160.35 475.15L1162.03 475.70L1162.03 473.5ZM1162.03 473.5L1162.03 475.70L1163.71 476.25L1165.39 477.24L1165.39 473.5ZM1165.39 473.5L1165.39 477.24L1167.06 478.23L1168.74 479.52L1168.74 473.5ZM1168.74 473.5L1168.74 479.52L1170.42 480.80L1172.10 480.80L1172.10 473.5Z" fill="#ff5252" stroke="#ff5252" stroke-width="0.3"/>
<path d="M51.19 473.5L51.19 483.41L52.87 482.79L54.55 482.14L54.55 473.5ZM54.55 473.5L54.55 482.14L56.23 481.49L57.91 480.87L57.91 473.5ZM57.91 473.5L57.91 480.87L59.58 480.25L61.26 479.34L61.26 473.5ZM61.26 473.5L61.26 479.34L62.94 478.43L64.62 477.38L64.62 473.5ZM64.62 473.5L64.62 477.38L66.30 476.33L67.97 475.50L67.97 473.5ZM67.97 473.5L67.97 475.50L69.65 474.68L71.33 473.75L71.33 473.5ZM131.74 473.5L131.74 480.79L133.42 480.49L135.09 480.61L135.09 473.5ZM141.81 473.5L141.81 479.99L143.48 478.83L145.16 477.71L145.16 473.5ZM145.16 473.5L145.16 477.71L146.84 476.59L148.52 475.48L148.52 473.5ZM148.52 473.5L148.52 475.48L150.20 474.36L151.87 473.50L151.87 473.5ZM192.15 473.5L192.15 479.75L193.82 478.72L195.50 477.84L195.50 473.5ZM195.50 473.5L195.50 477.84L197.18 476.96L198.86 476.30L198.86 473.5ZM198.86 473.5L198.86 476.30L200.54 475.64L202.21 475.08L202.21 473.5ZM202.21 473.5L202.21 475.08L203.89 474.52L205.57 474.27L205.57 473.5ZM205.57 473.5L205.57 474.27L207.25 474.03L208.93 473.81L208.93 473.5ZM208.93 473.5L208.93 473.81L210.60 473.59L212.28 474.28L212.28 473.5ZM222.35 473.5L222.35 476.31L224.03 476.24L225.71 475.22L225.71 473.5ZM225.71 473.5L225.71 475.22L227.38 474.20L229.06 473.50L229.06 473.5ZM259.27 473.5L259.27 485.40L260.94 484.93L262.62 484.21L262.62 473.5ZM262.62 473.5L262.62 484.21L264.30 483.50L265.98 482.82L265.98 473.5ZM265.98 473.5L265.98 482.82L267.66 482.15L269.33 481.83L269.33 473.5ZM269.33 473.5L269.33 481.83L271.01 481.51L272.69 480.36L272.69 473.5ZM272.69 473.5L272.69 480.36L274.37 479.21L276.05 478.07L276.05 473.5ZM276.05 473.5L276.05 478.07L277.72 476.94L279.40 476.41L279.40 473.5ZM279.40 473.5L279.40 476.41L281.08 475.89L282.76 475.52L282.76 473.5ZM282.76 473.5L282.76 475.52L284.44 475.16L286.11 474.54L286.11 473.5ZM286.11 473.5L286.11 474.54L287.79 473.92L289.47 473.50L289.47 473.5ZM326.39 473.5L326.39 490.40L328.06 489.57L329.74 488.55L329.74 473.5ZM329.74 473.5L329.74 488.55L331.42 487.54L333.10 486.42L333.10 473.5ZM333.10 473.5L333.10 486.42L334.78 485.31L336.45 484.52L336.45 473.5ZM336.45 473.5L336.45 484.52L338.13 483.74L339.81 483.20L339.81 473.5ZM339.81 473.5L339.81 483.20L341.49 482.67L343.17 481.51L343.17 473.5ZM343.17 473.5L343.17 481.51L344.84 480.36L346.52 479.59L346.52 473.5ZM346.52 473.5L346.52 479.59L348.20 478.82L349.88 477.45L349.88 473.5ZM349.88 473.5L349.88 477.45L351.56 476.08L353.23 475.09L353.23 473.5ZM353.23 473.5L353.23 475.09L354.91 474.09L356.59 473.51L356.59 473.5ZM571.37 473.5L571.37 475.12L573.05 474.94L574.73 474.69L574.73 473.5ZM574.73 473.5L574.73 474.69L576.41 474.44L578.09 474.09L578.09 473.5ZM578.09 473.5L578.09 474.09L579.76 473.74L581.44 474.74L581.44 473.5ZM598.22 473.5L598.22 480.55L599.90 480.08L601.58 479.58L601.58 473.5ZM601.58 473.5L601.58 479.58L603.26 479.09L604.93 478.91L604.93 473.5ZM604.93 473.5L604.93 478.91L606.61 478.73L608.29 478.90L608.29 473.5ZM618.36 473.5L618.36 482.41L620.04 482.17L621.71 481.65L621.71 473.5ZM621.71 473.5L621.71 481.65L623.39 481.12L625.07 480.74L625.07 473.5ZM625.07 473.5L625.07 480.74L626.75 480.36L628.43 480.30L628.43 473.5ZM628.43 473.5L628.43 480.30L630.10 480.24L631.78 480.14L631.78 473.5ZM631.78 473.5L631.78 480.14L633.46 480.04L635.14 479.95L635.14 473.5ZM635.14 473.5L635.14 479.95L636.82 479.85L638.49 478.91L638.49 473.5ZM638.49 473.5L638.49 478.91L640.17 477.97L641.85 475.73L641.85 473.5ZM715.68 473.5L715.68 476.88L717.36 476.74L719.04 476.63L719.04 473.5ZM719.04 473.5L719.04 476.63L720.72 476.52L722.39 477.11L722.39 473.5ZM729.11 473.5L729.11 476.70L730.78 475.34L732.46 474.71L732.46 473.5ZM732.46 473.5L732.46 474.71L734.14 474.08L735.82 474.52L735.82 473.5ZM766.02 473.5L766.02 484.20L767.70 484.13L769.38 483.65L769.38 473.5ZM769.38 473.5L769.38 483.65L771.06 483.17L772.73 482.42L772.73 473.5ZM772.73 473.5L772.73 482.42L774.41 481.67L776.09 482.23L776.09 473.5ZM779.45 473.5L779.45 481.98L781.12 481.18L782.80 480.49L782.80 473.5ZM782.80 473.5L782.80 480.49L784.48 479.79L786.16 479.34L786.16 473.5ZM786.16 473.5L786.16 479.34L787.84 478.89L789.51 478.75L789.51 473.5ZM789.51 473.5L789.51 478.75L791.19 478.60L792.87 479.13L792.87 473.5ZM816.36 473.5L816.36 482.93L818.04 481.93L819.72 481.08L819.72 473.5ZM819.72 473.5L819.72 481.08L821.40 480.23L823.07 479.68L823.07 473.5ZM823.07 473.5L823.07 479.68L824.75 479.12L826.43 478.64L826.43 473.5ZM826.43 473.5L826.43 478.64L828.11 478.17L829.79 477.56L829.79 473.5ZM829.79 473.5L829.79 477.56L831.46 476.96L833.14 475.80L833.14 473.5ZM833.14 473.5L833.14 475.80L834.82 474.64L836.50 473.73L836.50 473.5ZM883.48 473.5L883.48 476.50L885.16 476.25L886.84 475.59L886.84 473.5ZM886.84 473.5L886.84 475.59L888.52 474.92L890.19 474.58L890.19 473.5ZM890.19 473.5L890.19 474.58L891.87 474.24L893.55 474.01L893.55 473.5ZM893.55 473.5L893.55 474.01L895.23 473.77L896.91 473.62L896.91 473.5ZM923.75 473.5L923.75 476.21L925.43 476.08L927.11 475.69L927.11 473.5ZM927.11 473.5L927.11 475.69L928.79 475.29L930.47 474.70L930.47 473.5ZM930.47 473.5L930.47 474.70L932.14 474.11L933.82 473.50L933.82 473.5ZM994.23 473.5L994.23 475.47L995.91 475.35L997.59 474.33L997.59 473.5ZM1021.08 473.5L1021.08 473.85L1022.76 473.53L1024.43 473.60L1024.43 473.5ZM1034.50 473.5L1034.50 474.29L1036.18 474.15L1037.86 473.79L1037.86 473.5ZM1108.33 473.5L1108.33 479.61L1110.01 479.43L1111.69 479.24L1111.69 473.5ZM1111.69 473.5L1111.69 479.24L1113.37 479.06L1115.05 478.68L1115.05 473.5ZM1115.05 473.5L1115.05 478.68L1116.72 478.30L1118.40 477.89L1118.40 473.5ZM1118.40 473.5L1118.40 477.89L1120.08 477.48L1121.76 477.22L1121.76 473.5ZM1121.76 473.5L1121.76 477.22L1123.44 476.95L1125.11 476.77L1125.11 473.5ZM1125.11 473.5L1125.11 476.77L1126.79 476.59L1128.47 476.58L1128.47 473.5ZM1128.47 473.5L1128.47 476.58L1130.15 476.57L1131.83 476.74L1131.83 473.5ZM1138.54 473.5L1138.54 476.87L1140.22 476.65L1141.89 476.43L1141.89 473.5ZM1141.89 473.5L1141.89 476.43L1143.57 476.21L1145.25 476.08L1145.25 473.5ZM1145.25 473.5L1145.25 476.08L1146.93 475.95L1148.61 476.01L1148.61 473.5ZM1151.96 473.5L1151.96 475.75L1153.64 475.43L1155.32 475.04L1155.32 473.5ZM1155.32 473.5L1155.32 475.04L1157.00 474.64L1158.67 474.90L1158.67 473.5Z" fill="#ffcdd2" stroke="#ffcdd2" stroke-width="0.3"/>
<path d="M12.6 431.9 L16.0 431.3 L19.3 430.9 L22.7 432.5 L26.0 434.0 L29.4 436.0 L32.7 438.7 L36.1 443.5 L39.4 446.9 L42.8 450.3 L46.2 453.6 L49.5 456.7 L52.9 457.7 L56.2 458.5 L59.6 459.3 L62.9 458.6 L66.3 457.6 L69.7 456.1 L73.0 454.5 L76.4 449.2 L79.7 444.3 L83.1 441.4 L86.4 438.5 L89.8 435.8 L93.1 433.9 L96.5 432.2 L99.9 429.6 L103.2 427.2 L106.6 424.9 L109.9 422.8 L113.3 426.9 L116.6 430.8 L120.0 434.8 L123.3 438.8 L126.7 441.4 L130.1 443.5 L133.4 444.3 L136.8 446.1 L140.1 448.1 L143.5 447.3 L146.8 445.6 L150.2 443.2 L153.6 440.7 L156.9 439.6 L160.3 439.4 L163.6 439.5 L167.0 439.7 L170.3 439.9 L173.7 440.1 L177.0 442.1 L180.4 445.0 L183.8 448.0 L187.1 451.1 L190.5 453.9 L193.8 453.3 L197.2 452.7 L200.5 451.8 L203.9 451.2 L207.2 451.2 L210.6 451.3 L214.0 453.2 L217.3 455.2 L220.7 455.7 L224.0 456.0 L227.4 454.4 L230.7 452.3 L234.1 451.3 L237.5 450.4 L240.8 451.1 L244.2 454.7 L247.5 459.0 L250.9 463.7 L254.2 469.5 L257.6 474.3 L260.9 475.9 L264.3 476.7 L267.7 477.5 L271.0 478.8 L274.4 477.4 L277.7 476.1 L281.1 475.9 L284.4 475.5 L287.8 474.4 L291.1 473.6 L294.5 473.4 L297.9 473.2 L301.2 474.7 L304.6 479.0 L307.9 483.6 L311.3 488.6 L314.6 494.8 L318.0 501.5 L321.4 507.3 L324.7 512.5 L328.1 514.6 L331.4 516.3 L334.8 516.9 L338.1 517.8 L341.5 519.1 L344.8 518.5 L348.2 517.8 L351.6 515.9 L354.9 514.2 L358.3 513.0 L361.6 512.7 L365.0 513.1 L368.3 511.1 L371.7 509.0 L375.0 506.0 L378.4 502.7 L381.8 499.7 L385.1 497.0 L388.5 495.4 L391.8 495.5 L395.2 497.1 L398.5 498.5 L401.9 498.1 L405.3 498.2 L408.6 498.5 L412.0 496.6 L415.3 494.5 L418.7 493.4 L422.0 492.5 L425.4 491.7 L428.7 491.1 L432.1 490.4 L435.5 489.8 L438.8 489.3 L442.2 488.7 L445.5 488.4 L448.9 488.3 L452.2 488.1 L455.6 488.3 L458.9 488.4 L462.3 489.1 L465.7 489.9 L469.0 488.9 L472.4 487.6 L475.7 485.3 L479.1 481.4 L482.4 477.1 L485.8 472.7 L489.2 469.3 L492.5 466.0 L495.9 465.0 L499.2 464.0 L502.6 462.3 L505.9 460.4 L509.3 457.4 L512.6 454.4 L516.0 452.1 L519.4 449.8 L522.7 448.7 L526.1 447.5 L529.4 446.9 L532.8 447.9 L536.1 448.9 L539.5 448.6 L542.8 447.5 L546.2 446.3 L549.6 446.0 L552.9 446.2 L556.3 447.4 L559.6 448.4 L563.0 449.1 L566.3 450.2 L569.7 451.3 L573.1 451.3 L576.4 451.1 L579.8 450.7 L583.1 453.4 L586.5 456.4 L589.8 459.2 L593.2 462.0 L596.5 464.8 L599.9 465.2 L603.3 465.6 L606.6 466.7 L610.0 468.4 L613.3 472.2 L616.7 474.9 L620.0 476.1 L623.4 476.8 L626.7 477.6 L630.1 479.1 L633.5 480.4 L636.8 481.3 L640.2 480.3 L643.5 476.6 L646.9 472.2 L650.2 467.6 L653.6 463.0 L657.0 458.9 L660.3 455.3 L663.7 451.6 L667.0 449.4 L670.4 447.3 L673.7 445.1 L677.1 441.7 L680.4 438.4 L683.8 434.8 L687.2 431.7 L690.5 431.7 L693.9 432.7 L697.2 434.0 L700.6 435.4 L703.9 438.2 L707.3 440.4 L710.6 442.1 L714.0 443.5 L717.4 444.2 L720.7 444.9 L724.1 447.2 L727.4 448.6 L730.8 446.7 L734.1 445.6 L737.5 446.6 L740.9 447.7 L744.2 449.1 L747.6 451.0 L750.9 454.8 L754.3 458.6 L757.6 462.5 L761.0 466.3 L764.3 469.9 L767.7 472.5 L771.1 474.2 L774.4 475.0 L777.8 478.5 L781.1 478.8 L784.5 479.1 L787.8 479.9 L791.2 481.0 L794.5 483.6 L797.9 487.6 L801.3 490.8 L804.6 493.8 L808.0 496.3 L811.3 498.9 L814.7 501.3 L818.0 500.9 L821.4 500.8 L824.8 501.2 L828.1 501.2 L831.5 500.9 L834.8 498.9 L838.2 496.6 L841.5 493.9 L844.9 491.9 L848.2 490.3 L851.6 490.7 L855.0 491.2 L858.3 491.6 L861.7 492.0 L865.0 492.4 L868.4 492.9 L871.7 494.2 L875.1 495.6 L878.4 497.0 L881.8 498.0 L885.2 498.1 L888.5 497.2 L891.9 496.7 L895.2 496.4 L898.6 496.0 L901.9 495.7 L905.3 495.3 L908.7 495.5 L912.0 498.2 L915.4 500.2 L918.7 501.7 L922.1 502.5 L925.4 502.8 L928.8 501.7 L932.1 500.2 L935.5 498.5 L938.9 497.8 L942.2 496.7 L945.6 492.2 L948.9 487.6 L952.3 483.2 L955.6 479.3 L959.0 477.7 L962.3 476.1 L965.7 474.6 L969.1 473.4 L972.4 472.7 L975.8 474.1 L979.1 476.3 L982.5 479.1 L985.8 480.9 L989.2 482.2 L992.6 482.6 L995.9 482.7 L999.3 479.9 L1002.6 477.1 L1006.0 474.3 L1009.3 474.4 L1012.7 475.3 L1016.0 477.6 L1019.4 478.0 L1022.8 477.2 L1026.1 477.6 L1029.5 478.1 L1032.8 478.8 L1036.2 478.4 L1039.5 477.6 L1042.9 476.6 L1046.2 475.5 L1049.6 474.3 L1053.0 473.1 L1056.3 471.7 L1059.7 469.7 L1063.0 467.1 L1066.4 464.1 L1069.7 461.8 L1073.1 460.2 L1076.5 459.8 L1079.8 459.7 L1083.2 459.7 L1086.5 460.3 L1089.9 461.4 L1093.2 463.3 L1096.6 465.8 L1099.9 469.4 L1103.3 472.3 L1106.7 474.8 L1110.0 476.1 L1113.4 477.4 L1116.7 477.9 L1120.1 478.4 L1123.4 478.7 L1126.8 478.9 L1130.1 479.5 L1133.5 480.5 L1136.9 481.3 L1140.2 481.7 L1143.6 482.2 L1146.9 482.8 L1150.3 483.4 L1153.6 483.2 L1157.0 483.0 L1160.4 484.4 L1163.7 486.4 L1167.1 489.7 L1170.4 493.6" stroke="#2962ff" stroke-width="1.3" fill="none" stroke-linejoin="round"/>
<path d="M12.6 438.6 L16.0 437.1 L19.3 435.7 L22.7 435.3 L26.0 434.8 L29.4 435.2 L32.7 435.7 L36.1 437.3 L39.4 438.9 L42.8 441.1 L46.2 443.6 L49.5 446.2 L52.9 448.4 L56.2 450.5 L59.6 452.5 L62.9 453.6 L66.3 454.7 L69.7 455.0 L73.0 455.2 L76.4 453.5 L79.7 451.4 L83.1 449.2 L86.4 446.9 L89.8 444.5 L93.1 442.2 L96.5 439.8 L99.9 437.5 L103.2 435.3 L106.6 433.3 L109.9 431.6 L113.3 430.8 L116.6 430.6 L120.0 431.8 L123.3 433.1 L126.7 434.5 L130.1 435.9 L133.4 437.3 L136.8 438.8 L140.1 440.4 L143.5 442.0 L146.8 442.5 L150.2 442.4 L153.6 442.2 L156.9 441.9 L160.3 441.5 L163.6 441.0 L167.0 440.6 L170.3 440.8 L173.7 440.9 L177.0 441.1 L180.4 442.3 L183.8 443.7 L187.1 445.1 L190.5 446.6 L193.8 448.1 L197.2 449.2 L200.5 449.7 L203.9 450.2 L207.2 450.7 L210.6 451.2 L214.0 451.8 L217.3 452.3 L220.7 452.8 L224.0 453.3 L227.4 453.7 L230.7 453.6 L234.1 453.1 L237.5 452.7 L240.8 452.7 L244.2 453.3 L247.5 455.0 L250.9 457.0 L254.2 459.4 L257.6 461.9 L260.9 464.5 L264.3 466.7 L267.7 468.9 L271.0 470.8 L274.4 471.7 L277.7 472.6 L281.1 473.5 L284.4 473.8 L287.8 474.0 L291.1 474.2 L294.5 474.3 L297.9 474.3 L301.2 474.3 L304.6 476.0 L307.9 477.9 L311.3 480.1 L314.6 483.8 L318.0 487.4 L321.4 491.0 L324.7 494.8 L328.1 498.5 L331.4 502.3 L334.8 505.1 L338.1 507.5 L341.5 509.9 L344.8 511.7 L348.2 512.5 L351.6 513.4 L354.9 513.6 L358.3 513.6 L361.6 513.6 L365.0 513.2 L368.3 512.4 L371.7 511.5 L375.0 509.9 L378.4 508.1 L381.8 506.2 L385.1 504.5 L388.5 503.1 L391.8 501.6 L395.2 500.9 L398.5 500.4 L401.9 499.9 L405.3 499.4 L408.6 498.7 L412.0 498.1 L415.3 497.4 L418.7 496.7 L422.0 496.0 L425.4 495.3 L428.7 494.5 L432.1 493.6 L435.5 492.8 L438.8 492.0 L442.2 491.4 L445.5 490.9 L448.9 490.3 L452.2 490.0 L455.6 489.8 L458.9 489.5 L462.3 489.3 L465.7 489.2 L469.0 489.1 L472.4 488.5 L475.7 487.3 L479.1 486.1 L482.4 484.1 L485.8 481.7 L489.2 479.4 L492.5 476.5 L495.9 473.7 L499.2 471.1 L502.6 469.2 L505.9 467.4 L509.3 465.3 L512.6 463.2 L516.0 461.1 L519.4 458.9 L522.7 456.6 L526.1 454.6 L529.4 453.2 L532.8 451.9 L536.1 450.9 L539.5 450.4 L542.8 449.9 L546.2 449.4 L549.6 448.9 L552.9 448.4 L556.3 448.4 L559.6 448.4 L563.0 448.5 L566.3 449.0 L569.7 449.5 L573.1 449.9 L576.4 450.1 L579.8 450.4 L583.1 451.1 L586.5 452.7 L589.8 454.3 L593.2 455.8 L596.5 457.2 L599.9 458.6 L603.3 460.0 L606.6 461.4 L610.0 462.8 L613.3 464.2 L616.7 465.7 L620.0 467.4 L623.4 469.1 L626.7 470.8 L630.1 472.3 L633.5 473.9 L636.8 475.0 L640.2 475.8 L643.5 476.6 L646.9 475.2 L650.2 473.5 L653.6 471.6 L657.0 468.9 L660.3 466.2 L663.7 463.4 L667.0 460.4 L670.4 457.4 L673.7 454.6 L677.1 452.0 L680.4 449.3 L683.8 446.8 L687.2 444.3 L690.5 442.1 L693.9 440.6 L697.2 439.0 L700.6 438.3 L703.9 438.0 L707.3 438.3 L710.6 439.1 L714.0 440.0 L717.4 440.9 L720.7 441.9 L724.1 443.0 L727.4 444.1 L730.8 444.9 L734.1 445.0 L737.5 445.1 L740.9 445.6 L744.2 446.3 L747.6 447.0 L750.9 448.8 L754.3 450.7 L757.6 453.4 L761.0 456.3 L764.3 459.1 L767.7 461.9 L771.1 464.5 L774.4 466.8 L777.8 469.2 L781.1 471.1 L784.5 472.8 L787.8 474.5 L791.2 475.9 L794.5 477.4 L797.9 479.1 L801.3 481.5 L804.6 483.9 L808.0 486.2 L811.3 488.5 L814.7 490.8 L818.0 492.5 L821.4 494.1 L824.8 495.5 L828.1 496.5 L831.5 497.4 L834.8 497.8 L838.2 497.3 L841.5 496.8 L844.9 496.1 L848.2 495.2 L851.6 494.3 L855.0 493.6 L858.3 493.0 L861.7 492.5 L865.0 492.5 L868.4 492.5 L871.7 492.9 L875.1 493.5 L878.4 494.2 L881.8 494.8 L885.2 495.3 L888.5 495.8 L891.9 496.0 L895.2 496.1 L898.6 496.1 L901.9 495.8 L905.3 495.5 L908.7 496.1 L912.0 497.0 L915.4 498.0 L918.7 498.8 L922.1 499.7 L925.4 500.2 L928.8 499.9 L932.1 499.5 L935.5 499.2 L938.9 498.9 L942.2 498.5 L945.6 496.7 L948.9 494.7 L952.3 492.3 L955.6 489.8 L959.0 487.3 L962.3 485.0 L965.7 482.9 L969.1 481.2 L972.4 479.7 L975.8 479.1 L979.1 478.5 L982.5 479.1 L985.8 479.7 L989.2 480.1 L992.6 480.5 L995.9 480.8 L999.3 480.1 L1002.6 479.4 L1006.0 478.8 L1009.3 478.3 L1012.7 477.8 L1016.0 477.5 L1019.4 477.4 L1022.8 477.2 L1026.1 477.4 L1029.5 477.7 L1032.8 477.9 L1036.2 477.8 L1039.5 477.7 L1042.9 477.2 L1046.2 476.6 L1049.6 475.9 L1053.0 475.0 L1056.3 473.9 L1059.7 472.8 L1063.0 471.3 L1066.4 469.7 L1069.7 468.2 L1073.1 466.7 L1076.5 465.3 L1079.8 464.2 L1083.2 463.4 L1086.5 462.9 L1089.9 462.7 L1093.2 462.9 L1096.6 464.0 L1099.9 465.1 L1103.3 466.8 L1106.7 468.5 L1110.0 470.2 L1113.4 471.8 L1116.7 473.1 L1120.1 474.4 L1123.4 475.2 L1126.8 475.8 L1130.1 476.4 L1133.5 477.1 L1136.9 477.8 L1140.2 478.6 L1143.6 479.5 L1146.9 480.3 L1150.3 480.8 L1153.6 481.3 L1157.0 481.9 L1160.4 482.7 L1163.7 483.6 L1167.1 485.0 L1170.4 486.3" stroke="#ff5252" stroke-width="1.3" fill="none" stroke-linejoin="round"/>
<clipPath id="cpm"><rect x="12" y="32" width="1296" height="259"/></clipPath>
<g clip-path="url(#cpm)">
<text x="1196.02" y="295.8" font-size="14.3" fill="#131722" color="#131722" textLength="102.69" lengthAdjust="spacingAndGlyphs">100.00%(3879.5)</text>
</g>
<rect x="12" y="201.5" width="1296" height="3" fill="#f23645"/>
<line x1="12" y1="198.5" x2="1308" y2="198.5" stroke="#26a69a" stroke-width="1" stroke-dasharray="1 1.25"/>
<line x1="12" y1="58.5" x2="1308" y2="58.5" stroke="#4a4a4a" stroke-width="1"/>
<line x1="12" y1="151.5" x2="1308" y2="151.5" stroke="#4a4a4a" stroke-width="1"/>
<line x1="12" y1="179.5" x2="1308" y2="179.5" stroke="#4a4a4a" stroke-width="1"/>
<line x1="12" y1="208.5" x2="1308" y2="208.5" stroke="#4a4a4a" stroke-width="1"/>
<text x="1203.48" y="54.8" font-size="14.3" fill="#131722" color="#131722" textLength="96.24" lengthAdjust="spacingAndGlyphs">0.00%(68999.7)</text>
<text x="1196.13" y="147.6" font-size="14.3" fill="#131722" color="#131722" textLength="102.58" lengthAdjust="spacingAndGlyphs">38.20%(44123.8)</text>
<text x="1196.39" y="175.7" font-size="14.3" fill="#131722" color="#131722" textLength="102.42" lengthAdjust="spacingAndGlyphs">50.00%(36439.6)</text>
<text x="1196.25" y="203.9" font-size="14.3" fill="#131722" color="#131722" textLength="102.56" lengthAdjust="spacingAndGlyphs">61.80%(28755.4)</text>
<path d="M12.5 178.0V193.5 M15.5 172.2V184.1 M19.5 167.0V179.4 M26.5 173.9V183.8 M29.5 172.9V178.9 M39.5 186.1V203.1 M52.5 189.0V201.2 M56.5 171.0V193.0 M62.5 178.9V193.0 M66.5 176.0V184.9 M69.5 171.6V180.4 M73.5 168.2V178.6 M76.5 144.2V176.1 M79.5 136.4V149.7 M86.5 136.3V149.6 M89.5 132.3V142.1 M93.5 130.4V140.1 M96.5 131.7V136.3 M99.5 115.4V135.0 M106.5 106.6V124.1 M116.5 128.6V140.4 M126.5 129.3V146.5 M133.5 123.3V142.5 M140.5 130.4V139.9 M143.5 120.3V133.4 M146.5 107.8V125.7 M150.5 100.6V116.3 M153.5 98.6V104.8 M163.5 102.5V106.9 M166.5 96.5V106.5 M173.5 96.9V104.7 M183.5 104.9V115.5 M190.5 112.9V122.5 M193.5 97.5V118.2 M197.5 94.8V103.2 M200.5 92.1V100.9 M207.5 92.3V100.4 M210.5 93.3V97.8 M220.5 97.7V110.0 M224.5 95.0V101.4 M227.5 89.9V101.5 M230.5 78.3V92.9 M237.5 75.5V84.2 M247.5 100.8V106.5 M260.5 112.2V136.8 M264.5 105.8V119.6 M274.5 99.1V122.5 M284.5 101.2V115.2 M291.5 96.7V111.8 M297.5 99.5V113.4 M321.5 164.1V175.9 M328.5 163.2V186.1 M334.5 160.6V178.1 M344.5 173.1V185.6 M351.5 170.3V184.4 M354.5 168.0V174.2 M368.5 177.8V194.7 M371.5 175.2V183.5 M375.5 173.5V179.6 M378.5 162.2V179.2 M381.5 158.9V168.2 M398.5 191.0V207.0 M401.5 183.6V194.6 M405.5 182.3V188.4 M411.5 182.6V198.9 M415.5 175.0V187.1 M428.5 182.7V195.7 M435.5 183.1V187.5 M442.5 188.5V193.8 M452.5 188.9V198.0 M458.5 193.2V199.5 M469.5 192.5V205.4 M472.5 190.0V197.1 M475.5 189.6V197.2 M479.5 164.5V196.5 M482.5 167.0V175.3 M485.5 161.7V174.7 M492.5 163.1V171.4 M502.5 163.2V175.9 M505.5 158.3V169.1 M509.5 150.5V165.3 M512.5 138.2V157.5 M516.5 139.3V146.0 M526.5 135.7V155.3 M539.5 138.6V150.3 M542.5 129.2V142.2 M546.5 126.2V134.4 M552.5 131.7V137.4 M559.5 129.1V144.6 M569.5 133.7V143.2 M573.5 127.4V138.8 M576.5 124.6V132.0 M579.5 117.2V130.7 M589.5 139.6V148.1 M596.5 141.3V149.4 M599.5 137.7V146.9 M603.5 132.3V141.4 M620.5 150.3V162.9 M623.5 144.4V157.3 M640.5 150.9V165.1 M643.5 131.5V153.7 M646.5 128.3V136.6 M650.5 121.3V133.6 M653.5 106.1V124.8 M660.5 112.9V118.6 M663.5 99.2V117.3 M670.5 99.9V111.8 M673.5 99.0V105.0 M677.5 79.0V102.6 M683.5 72.7V89.1 M687.5 66.0V79.0 M697.5 77.7V91.3 M707.5 82.9V97.3 M710.5 81.6V90.5 M717.5 74.9V91.7 M727.5 84.6V89.3 M730.5 65.1V89.7 M734.5 59.5V69.6 M740.5 69.4V79.2 M747.5 75.6V78.7 M760.5 94.7V106.3 M767.5 99.1V111.1 M774.5 92.9V104.9 M781.5 94.1V115.1 M787.5 101.9V106.9 M801.5 122.1V131.5 M811.5 132.4V139.1 M818.5 132.6V145.3 M821.5 127.8V138.1 M831.5 136.2V144.7 M834.5 127.8V141.9 M841.5 122.6V135.4 M844.5 123.0V127.0 M858.5 134.9V142.5 M868.5 136.2V147.0 M885.5 153.3V161.1 M888.5 150.0V159.7 M895.5 148.8V158.4 M901.5 153.1V160.3 M915.5 174.9V191.2 M922.5 174.2V182.4 M928.5 171.2V183.5 M932.5 167.9V176.3 M935.5 167.8V174.6 M942.5 176.0V179.7 M945.5 161.5V181.6 M948.5 147.3V167.0 M952.5 145.1V150.6 M955.5 143.8V153.6 M969.5 147.5V162.7 M972.5 145.9V152.9 M985.5 171.4V178.1 M992.5 170.2V186.0 M995.5 167.1V174.4 M999.5 156.2V172.0 M1002.5 145.8V162.0 M1005.5 144.5V154.3 M1019.5 168.3V176.6 M1022.5 154.4V173.3 M1036.5 163.2V177.5 M1039.5 159.1V168.4 M1046.5 155.3V164.9 M1052.5 155.1V166.2 M1059.5 148.8V161.0 M1063.5 146.4V153.1 M1066.5 132.5V151.9 M1079.5 138.4V143.6 M1083.5 135.2V143.5 M1106.5 157.9V170.4 M1113.5 160.0V167.8 M1116.5 161.3V167.1 M1120.5 158.9V164.9 M1123.5 155.0V163.4 M1133.5 163.0V169.4 M1140.5 165.5V177.7 M1143.5 161.8V172.1 M1156.5 164.3V176.3 M1170.5 194.0V204.9" stroke="#26a69a" stroke-width="1" fill="none"/>
<path d="M22.5 168.2V182.8 M32.5 172.9V189.1 M36.5 181.9V201.0 M42.5 187.3V197.1 M46.5 192.6V196.6 M49.5 192.9V203.0 M59.5 183.6V193.7 M83.5 136.5V148.4 M103.5 115.2V123.3 M109.5 100.2V137.5 M113.5 108.9V147.2 M119.5 131.8V137.7 M123.5 134.8V146.0 M130.5 130.1V141.5 M136.5 123.5V140.7 M156.5 96.2V106.4 M160.5 88.3V110.7 M170.5 98.3V102.8 M177.5 96.3V115.2 M180.5 109.9V115.5 M187.5 106.3V125.1 M203.5 94.3V101.6 M213.5 94.9V102.8 M217.5 96.7V109.6 M234.5 73.4V86.4 M240.5 74.4V85.5 M244.5 83.0V107.3 M250.5 101.7V111.4 M254.5 106.3V123.9 M257.5 120.5V137.5 M267.5 107.9V113.8 M271.5 112.0V122.3 M277.5 101.6V107.9 M281.5 102.1V114.2 M287.5 102.1V110.5 M294.5 96.7V112.6 M301.5 101.1V114.7 M304.5 107.3V134.8 M307.5 128.5V136.1 M311.5 128.4V150.6 M314.5 144.6V157.8 M317.5 152.6V202.5 M324.5 160.7V188.0 M331.5 163.2V177.1 M338.5 161.9V174.8 M341.5 170.3V186.9 M348.5 172.3V182.8 M358.5 167.8V180.5 M361.5 175.7V188.3 M364.5 182.7V193.8 M385.5 160.0V173.2 M388.5 169.9V176.8 M391.5 170.3V187.0 M395.5 179.7V199.3 M408.5 180.8V197.6 M418.5 178.3V186.2 M422.5 181.3V191.6 M425.5 187.2V194.9 M432.5 183.7V187.4 M438.5 182.2V194.5 M445.5 186.7V193.8 M448.5 188.2V196.7 M455.5 189.5V199.5 M462.5 195.0V202.0 M465.5 196.1V205.0 M489.5 164.6V169.3 M495.5 164.5V173.4 M499.5 166.4V177.1 M519.5 137.0V147.4 M522.5 140.2V154.8 M529.5 133.7V145.0 M532.5 141.8V150.4 M536.5 145.2V153.0 M549.5 128.0V139.7 M556.5 130.3V144.7 M562.5 128.7V137.1 M566.5 130.2V141.6 M583.5 119.1V153.9 M586.5 136.6V148.3 M593.5 136.8V150.6 M606.5 130.9V142.4 M609.5 137.3V144.4 M613.5 137.6V155.0 M616.5 149.0V161.6 M626.5 146.9V156.5 M630.5 152.6V158.5 M633.5 152.3V163.9 M636.5 157.2V164.0 M656.5 107.3V117.7 M667.5 98.8V110.9 M680.5 80.2V89.4 M690.5 65.1V83.5 M693.5 78.3V93.1 M700.5 79.8V88.2 M703.5 82.4V100.5 M714.5 81.5V90.5 M720.5 75.1V87.6 M724.5 84.0V91.1 M737.5 58.0V79.5 M744.5 70.6V78.4 M750.5 74.5V93.5 M754.5 87.7V93.0 M757.5 90.0V103.4 M764.5 94.4V108.0 M771.5 97.6V106.0 M777.5 92.2V116.7 M784.5 93.7V107.8 M791.5 100.4V107.6 M794.5 103.8V117.2 M797.5 113.1V128.6 M804.5 122.8V131.7 M807.5 124.6V138.2 M814.5 131.5V144.9 M824.5 127.6V138.2 M828.5 131.8V145.2 M838.5 127.9V134.0 M848.5 120.8V129.3 M851.5 124.5V141.7 M854.5 134.1V141.6 M861.5 135.3V144.8 M865.5 138.0V146.7 M871.5 135.2V152.5 M875.5 148.5V157.5 M878.5 152.3V160.7 M881.5 157.4V161.4 M891.5 148.9V158.2 M898.5 148.7V162.4 M905.5 153.9V164.3 M908.5 159.6V165.8 M912.5 160.0V181.8 M918.5 173.2V181.0 M925.5 175.8V184.6 M938.5 167.7V179.4 M958.5 147.7V157.4 M962.5 150.8V160.3 M965.5 153.1V160.3 M975.5 145.1V168.2 M979.5 161.4V168.6 M982.5 164.3V179.6 M989.5 170.2V176.6 M1009.5 146.0V160.1 M1012.5 157.2V173.0 M1016.5 165.2V177.9 M1026.5 154.7V173.5 M1029.5 166.7V172.8 M1032.5 169.4V177.8 M1042.5 158.2V166.1 M1049.5 155.6V164.0 M1056.5 153.4V161.5 M1069.5 135.0V139.5 M1073.5 134.5V142.9 M1076.5 136.2V142.9 M1086.5 135.8V148.0 M1089.5 141.5V155.3 M1093.5 148.6V157.4 M1096.5 150.5V158.1 M1099.5 154.7V170.6 M1103.5 165.5V168.9 M1110.5 157.5V168.6 M1126.5 156.7V164.3 M1130.5 160.9V171.7 M1136.5 161.8V176.3 M1146.5 162.2V173.8 M1150.5 169.8V175.1 M1153.5 168.4V178.3 M1160.5 163.8V182.2 M1163.5 177.8V183.8 M1167.5 180.1V201.5" stroke="#ef5350" stroke-width="1" fill="none"/>
<path d="M11.5 181.6h2V189.0h-2ZM14.5 176.4h2V181.6h-2ZM18.5 169.7h2V176.4h-2ZM25.5 177.0h2V180.1h-2ZM28.5 174.0h2V177.0h-2ZM38.5 190.5h2V198.7h-2ZM51.5 190.5h2V199.5h-2ZM55.5 186.0h2V190.5h-2ZM61.5 181.6h2V189.8h-2ZM65.5 178.6h2V181.6h-2ZM68.5 174.1h2V178.6h-2ZM72.5 172.7h2V174.1h-2ZM75.5 148.1h2V172.7h-2ZM78.5 138.4h2V148.1h-2ZM85.5 139.9h2V147.3h-2ZM88.5 136.2h2V139.9h-2ZM92.5 134.7h2V136.2h-2ZM95.5 132.5h2V134.7h-2ZM98.5 119.6h2V132.5h-2ZM105.5 107.7h2V121.0h-2ZM115.5 133.0h2V136.8h-2ZM125.5 133.0h2V145.0h-2ZM132.5 124.8h2V139.0h-2ZM139.5 131.6h2V137.5h-2ZM142.5 121.9h2V131.6h-2ZM145.5 112.2h2V121.9h-2ZM149.5 102.5h2V112.2h-2ZM152.5 100.2h2V102.5h-2ZM162.5 104.1h2V105.1h-2ZM165.5 100.2h2V104.5h-2ZM172.5 98.0h2V101.7h-2ZM182.5 109.2h2V112.9h-2ZM189.5 114.4h2V121.1h-2ZM192.5 101.7h2V114.4h-2ZM196.5 96.5h2V101.7h-2ZM199.5 95.7h2V96.7h-2ZM206.5 96.4h2V97.4h-2ZM209.5 95.7h2V96.7h-2ZM219.5 99.5h2V106.2h-2ZM223.5 98.0h2V99.5h-2ZM226.5 91.3h2V98.0h-2ZM229.5 79.4h2V91.3h-2ZM236.5 78.6h2V82.4h-2ZM246.5 103.2h2V105.5h-2ZM259.5 116.6h2V127.1h-2ZM263.5 109.2h2V116.6h-2ZM273.5 102.5h2V118.1h-2ZM283.5 103.2h2V110.7h-2ZM290.5 100.2h2V107.7h-2ZM296.5 103.2h2V109.2h-2ZM320.5 165.2h2V172.7h-2ZM327.5 166.7h2V183.9h-2ZM333.5 163.0h2V174.2h-2ZM343.5 175.7h2V183.9h-2ZM350.5 173.4h2V180.2h-2ZM353.5 169.7h2V173.4h-2ZM367.5 180.2h2V190.6h-2ZM370.5 177.2h2V180.2h-2ZM374.5 175.0h2V177.2h-2ZM377.5 166.0h2V175.0h-2ZM380.5 163.0h2V166.0h-2ZM397.5 192.8h2V195.0h-2ZM400.5 186.1h2V192.8h-2ZM404.5 183.9h2V186.1h-2ZM410.5 184.6h2V195.0h-2ZM414.5 179.4h2V184.6h-2ZM427.5 184.6h2V192.0h-2ZM434.5 185.6h2V186.6h-2ZM441.5 189.8h2V192.8h-2ZM451.5 192.7h2V193.7h-2ZM457.5 195.8h2V198.0h-2ZM468.5 194.3h2V203.3h-2ZM471.5 193.4h2V194.4h-2ZM474.5 192.7h2V193.7h-2ZM478.5 174.2h2V192.8h-2ZM481.5 171.2h2V174.2h-2ZM484.5 166.0h2V171.2h-2ZM491.5 166.2h2V167.2h-2ZM501.5 167.5h2V173.4h-2ZM504.5 161.5h2V167.5h-2ZM508.5 154.0h2V161.5h-2ZM511.5 141.4h2V154.0h-2ZM515.5 140.9h2V141.9h-2ZM525.5 137.7h2V151.1h-2ZM538.5 141.2h2V149.4h-2ZM541.5 133.0h2V141.2h-2ZM545.5 130.0h2V133.0h-2ZM551.5 133.0h2V136.0h-2ZM558.5 133.0h2V141.2h-2ZM568.5 135.3h2V140.5h-2ZM572.5 129.3h2V135.3h-2ZM575.5 127.8h2V129.3h-2ZM578.5 121.1h2V127.8h-2ZM588.5 141.2h2V144.2h-2ZM595.5 144.2h2V147.9h-2ZM598.5 140.5h2V144.2h-2ZM602.5 135.3h2V140.5h-2ZM619.5 153.1h2V160.6h-2ZM622.5 148.7h2V153.1h-2ZM639.5 152.4h2V162.0h-2ZM642.5 135.7h2V152.4h-2ZM645.5 132.0h2V135.7h-2ZM649.5 122.8h2V132.0h-2ZM652.5 109.4h2V122.8h-2ZM659.5 114.1h2V115.1h-2ZM662.5 100.5h2V114.6h-2ZM669.5 102.7h2V109.4h-2ZM672.5 101.2h2V102.7h-2ZM676.5 81.8h2V101.2h-2ZM682.5 75.9h2V86.3h-2ZM686.5 69.1h2V75.9h-2ZM696.5 81.8h2V89.3h-2ZM706.5 87.0h2V96.0h-2ZM709.5 83.3h2V87.0h-2ZM716.5 78.8h2V89.3h-2ZM726.5 85.5h2V87.8h-2ZM729.5 68.4h2V85.5h-2ZM733.5 62.4h2V68.4h-2ZM739.5 72.1h2V75.9h-2ZM746.5 76.8h2V77.8h-2ZM759.5 98.6h2V101.8h-2ZM766.5 100.1h2V106.8h-2ZM773.5 94.9h2V102.4h-2ZM780.5 97.1h2V114.3h-2ZM786.5 103.4h2V104.4h-2ZM800.5 126.2h2V127.7h-2ZM810.5 135.4h2V136.4h-2ZM817.5 134.4h2V141.1h-2ZM820.5 131.4h2V134.4h-2ZM830.5 139.6h2V141.1h-2ZM833.5 131.4h2V139.6h-2ZM840.5 124.7h2V132.9h-2ZM843.5 123.8h2V124.8h-2ZM857.5 138.1h2V139.6h-2ZM867.5 139.6h2V143.4h-2ZM884.5 155.5h2V159.9h-2ZM887.5 151.7h2V155.5h-2ZM894.5 153.2h2V155.5h-2ZM900.5 156.9h2V159.2h-2ZM914.5 176.3h2V179.3h-2ZM921.5 178.5h2V180.0h-2ZM927.5 173.4h2V181.6h-2ZM931.5 171.1h2V173.4h-2ZM934.5 169.6h2V171.1h-2ZM941.5 177.8h2V178.8h-2ZM944.5 162.9h2V178.0h-2ZM947.5 149.5h2V162.9h-2ZM951.5 148.7h2V149.7h-2ZM954.5 148.3h2V149.3h-2ZM968.5 150.2h2V158.4h-2ZM971.5 149.3h2V150.3h-2ZM984.5 173.0h2V177.1h-2ZM991.5 172.6h2V175.3h-2ZM994.5 169.6h2V172.6h-2ZM998.5 159.2h2V169.6h-2ZM1001.5 149.5h2V159.2h-2ZM1004.5 149.0h2V150.0h-2ZM1018.5 170.4h2V174.8h-2ZM1021.5 157.7h2V170.4h-2ZM1035.5 167.4h2V173.4h-2ZM1038.5 160.0h2V167.4h-2ZM1045.5 158.4h2V163.7h-2ZM1051.5 156.2h2V162.9h-2ZM1058.5 151.0h2V158.4h-2ZM1062.5 148.0h2V151.0h-2ZM1065.5 136.1h2V148.0h-2ZM1078.5 140.8h2V141.8h-2ZM1082.5 139.0h2V141.3h-2ZM1105.5 160.8h2V167.8h-2ZM1112.5 163.7h2V166.7h-2ZM1115.5 162.8h2V163.8h-2ZM1119.5 160.0h2V163.0h-2ZM1122.5 158.5h2V160.0h-2ZM1132.5 165.2h2V168.2h-2ZM1139.5 169.7h2V173.4h-2ZM1142.5 166.0h2V169.7h-2ZM1155.5 166.0h2V174.2h-2ZM1169.5 199.4h2V200.4h-2Z" fill="#26a69a"/>
<path d="M21.5 169.7h2V180.1h-2ZM31.5 174.0h2V185.3h-2ZM35.5 185.3h2V198.7h-2ZM41.5 190.5h2V194.0h-2ZM45.5 194.0h2V195.7h-2ZM48.5 195.7h2V199.5h-2ZM58.5 186.0h2V189.8h-2ZM82.5 138.4h2V147.3h-2ZM102.5 119.6h2V121.0h-2ZM108.5 107.7h2V110.0h-2ZM112.5 110.0h2V136.8h-2ZM118.5 133.0h2V136.0h-2ZM122.5 136.0h2V145.0h-2ZM129.5 133.0h2V139.0h-2ZM135.5 124.8h2V137.5h-2ZM155.5 100.2h2V103.2h-2ZM159.5 103.2h2V104.7h-2ZM169.5 100.2h2V101.7h-2ZM176.5 98.0h2V112.2h-2ZM179.5 112.1h2V113.1h-2ZM186.5 109.2h2V121.1h-2ZM202.5 95.8h2V97.3h-2ZM212.5 95.8h2V98.4h-2ZM216.5 98.4h2V106.2h-2ZM233.5 79.4h2V82.4h-2ZM239.5 78.6h2V83.9h-2ZM243.5 83.9h2V105.5h-2ZM249.5 103.2h2V109.2h-2ZM253.5 109.2h2V122.6h-2ZM256.5 122.6h2V127.1h-2ZM266.5 109.2h2V112.9h-2ZM270.5 112.9h2V118.1h-2ZM276.5 102.5h2V104.7h-2ZM280.5 104.7h2V110.7h-2ZM286.5 103.2h2V107.7h-2ZM293.5 100.2h2V109.2h-2ZM300.5 103.2h2V111.4h-2ZM303.5 111.4h2V130.8h-2ZM306.5 130.8h2V132.4h-2ZM310.5 132.4h2V147.7h-2ZM313.5 147.7h2V155.6h-2ZM316.5 155.6h2V172.7h-2ZM323.5 165.2h2V183.9h-2ZM330.5 166.7h2V174.2h-2ZM337.5 163.0h2V171.2h-2ZM340.5 171.2h2V183.9h-2ZM347.5 175.7h2V180.2h-2ZM357.5 169.7h2V177.2h-2ZM360.5 177.2h2V186.9h-2ZM363.5 186.9h2V190.6h-2ZM384.5 163.0h2V171.2h-2ZM387.5 171.2h2V174.2h-2ZM390.5 174.2h2V183.1h-2ZM394.5 183.1h2V195.0h-2ZM407.5 183.9h2V195.0h-2ZM417.5 179.4h2V185.3h-2ZM421.5 185.3h2V190.6h-2ZM424.5 190.6h2V192.0h-2ZM431.5 184.6h2V186.1h-2ZM437.5 186.1h2V192.8h-2ZM444.5 189.8h2V191.3h-2ZM447.5 191.3h2V193.5h-2ZM454.5 192.8h2V198.0h-2ZM461.5 195.8h2V199.5h-2ZM464.5 199.5h2V203.3h-2ZM488.5 165.8h2V166.8h-2ZM494.5 166.7h2V170.5h-2ZM498.5 170.5h2V173.4h-2ZM518.5 141.4h2V143.0h-2ZM521.5 143.0h2V151.1h-2ZM528.5 137.7h2V142.9h-2ZM531.5 142.9h2V148.0h-2ZM535.5 148.0h2V149.4h-2ZM548.5 130.0h2V136.0h-2ZM555.5 133.0h2V141.2h-2ZM561.5 133.0h2V134.5h-2ZM565.5 134.5h2V140.5h-2ZM582.5 121.1h2V140.5h-2ZM585.5 140.5h2V144.2h-2ZM592.5 141.2h2V147.9h-2ZM605.5 135.3h2V139.7h-2ZM608.5 139.6h2V140.6h-2ZM612.5 140.5h2V152.4h-2ZM615.5 152.4h2V160.6h-2ZM625.5 148.7h2V153.9h-2ZM629.5 153.9h2V156.1h-2ZM632.5 156.1h2V159.8h-2ZM635.5 159.8h2V162.0h-2ZM655.5 109.4h2V114.6h-2ZM666.5 100.5h2V109.4h-2ZM679.5 81.8h2V86.3h-2ZM689.5 69.1h2V81.8h-2ZM692.5 81.8h2V89.3h-2ZM699.5 81.8h2V84.0h-2ZM702.5 84.0h2V96.0h-2ZM713.5 83.3h2V89.3h-2ZM719.5 78.8h2V86.3h-2ZM723.5 86.3h2V87.8h-2ZM736.5 62.4h2V75.9h-2ZM743.5 72.1h2V77.3h-2ZM749.5 77.3h2V90.8h-2ZM753.5 90.7h2V91.7h-2ZM756.5 91.5h2V101.8h-2ZM763.5 98.6h2V106.8h-2ZM770.5 100.1h2V102.4h-2ZM776.5 94.9h2V114.3h-2ZM783.5 97.1h2V103.9h-2ZM790.5 103.9h2V105.3h-2ZM793.5 105.3h2V115.8h-2ZM796.5 115.8h2V127.7h-2ZM803.5 126.2h2V127.7h-2ZM806.5 127.7h2V135.9h-2ZM813.5 135.9h2V141.1h-2ZM823.5 131.4h2V135.9h-2ZM827.5 135.9h2V141.1h-2ZM837.5 131.4h2V132.9h-2ZM847.5 124.0h2V126.2h-2ZM850.5 126.2h2V137.4h-2ZM853.5 137.4h2V139.6h-2ZM860.5 138.1h2V142.6h-2ZM864.5 142.5h2V143.5h-2ZM870.5 139.6h2V151.6h-2ZM874.5 151.6h2V154.0h-2ZM877.5 154.0h2V158.4h-2ZM880.5 158.4h2V159.9h-2ZM890.5 151.7h2V155.5h-2ZM897.5 153.2h2V159.2h-2ZM904.5 156.9h2V160.7h-2ZM907.5 160.6h2V161.6h-2ZM911.5 161.4h2V179.3h-2ZM917.5 176.3h2V180.0h-2ZM924.5 178.5h2V181.6h-2ZM937.5 169.6h2V178.5h-2ZM957.5 148.8h2V153.2h-2ZM961.5 153.2h2V157.7h-2ZM964.5 157.6h2V158.6h-2ZM974.5 149.5h2V164.4h-2ZM978.5 164.4h2V167.4h-2ZM981.5 167.4h2V177.1h-2ZM988.5 173.0h2V175.3h-2ZM1008.5 149.5h2V158.4h-2ZM1011.5 158.4h2V168.9h-2ZM1015.5 168.9h2V174.8h-2ZM1025.5 157.7h2V170.4h-2ZM1028.5 170.2h2V171.2h-2ZM1031.5 171.1h2V173.4h-2ZM1041.5 160.0h2V163.7h-2ZM1048.5 158.4h2V162.9h-2ZM1055.5 156.2h2V158.4h-2ZM1068.5 136.1h2V138.3h-2ZM1072.5 138.3h2V139.8h-2ZM1075.5 139.8h2V141.3h-2ZM1085.5 139.0h2V143.5h-2ZM1088.5 143.5h2V152.5h-2ZM1092.5 152.2h2V153.2h-2ZM1095.5 152.9h2V155.9h-2ZM1098.5 155.9h2V166.6h-2ZM1102.5 166.6h2V167.8h-2ZM1109.5 160.8h2V166.7h-2ZM1125.5 158.5h2V163.0h-2ZM1129.5 163.0h2V168.2h-2ZM1135.5 165.2h2V173.4h-2ZM1145.5 166.0h2V171.9h-2ZM1149.5 171.8h2V172.8h-2ZM1152.5 172.7h2V174.2h-2ZM1159.5 166.0h2V180.1h-2ZM1162.5 180.1h2V181.6h-2ZM1166.5 181.6h2V200.4h-2Z" fill="#ef5350"/>
<path d="M11.9 269.7 C15.9 269.1 27.0 267.2 35.7 266.1 C44.4 265.0 54.6 264.4 64.0 262.9 C73.4 261.4 82.0 259.2 92.3 257.1 C102.6 255.0 113.7 252.6 125.7 250.1 C137.7 247.6 155.1 244.2 164.2 242.4 C173.2 240.6 172.0 241.0 180.0 239.0 C188.0 237.0 201.8 233.2 212.1 230.6 C222.4 228.0 232.0 225.7 241.7 223.6 C251.3 221.5 261.0 219.7 270.0 217.8 C279.0 215.9 287.1 213.7 295.7 212.0 C304.3 210.3 310.7 209.1 321.4 207.5 C332.1 205.9 348.8 204.1 360.0 202.7 C371.2 201.3 375.2 200.4 388.5 198.9 C401.8 197.4 421.4 195.7 440.0 193.5 C458.6 191.3 480.0 188.4 500.0 185.5 C520.0 182.6 540.8 179.2 560.0 176.3 C579.2 173.4 601.3 169.8 615.0 167.8 C628.7 165.8 632.2 166.1 642.1 164.5 C652.0 162.9 663.6 160.1 674.3 158.1 C685.0 156.1 695.7 154.5 706.4 152.3 C717.1 150.2 731.0 147.0 738.5 145.2 C746.0 143.4 744.5 142.4 751.4 141.4 C758.3 140.4 768.8 140.2 780.0 139.3 C791.2 138.4 805.8 136.8 818.6 136.1 C831.5 135.3 844.2 134.6 857.1 134.8 C870.0 135.0 882.9 136.2 895.7 137.4 C908.6 138.6 923.5 140.7 934.2 141.9 C944.9 143.1 950.7 144.0 960.0 144.5 C969.3 145.0 976.7 145.1 990.0 145.0 C1003.3 144.9 1021.7 143.9 1040.0 144.2 C1058.3 144.5 1078.3 146.2 1100.0 146.6 C1121.7 147.0 1158.3 146.6 1170.0 146.6" stroke="#f33a2a" stroke-width="2.2" fill="none" stroke-linejoin="round"/>
<path d="M11.9 266.4 C15.9 265.8 27.0 263.9 35.7 262.5 C44.4 261.1 54.6 259.8 64.0 258.2 C73.4 256.6 82.0 255.1 92.3 253.0 C102.6 250.9 113.7 248.6 125.7 245.6 C137.7 242.6 155.1 237.5 164.2 235.2 C173.2 232.9 172.0 233.8 180.0 232.0 C188.0 230.2 201.8 227.0 212.1 224.2 C222.4 221.4 232.0 217.8 241.7 215.2 C251.3 212.6 261.0 211.2 270.0 208.8 C279.0 206.5 287.1 203.1 295.7 201.1 C304.3 199.1 310.7 198.3 321.4 196.6 C332.1 194.9 348.8 192.5 360.0 190.8 C371.2 189.2 375.2 188.4 388.5 186.7 C401.8 185.0 421.4 183.1 440.0 180.5 C458.6 177.9 480.0 174.5 500.0 171.4 C520.0 168.3 540.8 165.1 560.0 162.0 C579.2 158.9 601.3 154.8 615.0 152.9 C628.7 151.0 632.2 151.5 642.1 150.3 C652.0 149.1 663.6 147.2 674.3 145.8 C685.0 144.4 695.7 143.6 706.4 142.0 C717.1 140.4 731.0 137.5 738.5 136.2 C746.0 134.9 742.8 134.8 751.4 134.3 C760.0 133.8 778.8 133.3 790.0 133.0 C801.2 132.7 807.4 132.4 818.6 132.3 C829.8 132.2 844.2 132.3 857.1 132.5 C870.0 132.7 882.9 133.0 895.7 133.6 C908.6 134.2 923.5 135.3 934.2 135.9 C944.9 136.5 950.7 136.5 960.0 137.2 C969.3 137.9 976.7 139.2 990.0 140.3 C1003.3 141.4 1021.7 143.5 1040.0 143.7 C1058.3 143.9 1078.3 142.2 1100.0 141.5 C1121.7 140.8 1158.3 140.0 1170.0 139.7" stroke="#f33a2a" stroke-width="2.2" fill="none" stroke-linejoin="round"/>
<path d="M12.5 251.2 C14.7 250.4 20.5 247.8 25.4 246.2 C30.3 244.6 35.7 243.4 42.1 241.7 C48.5 240.0 55.6 238.7 64.0 235.9 C72.4 233.1 81.9 229.8 92.3 225.0 C102.7 220.2 117.8 211.3 126.4 207.0 C135.0 202.7 137.4 201.9 143.7 199.0 C150.0 196.1 157.7 192.7 164.3 189.5 C170.9 186.3 174.9 184.0 183.5 179.8 C192.1 175.6 205.6 169.3 215.7 164.4 C225.8 159.5 235.4 154.3 244.0 150.3 C252.6 146.3 260.0 143.4 267.1 140.6 C274.2 137.8 280.4 135.5 286.4 133.6 C292.4 131.7 297.8 130.2 303.1 129.1 C308.5 128.0 311.6 127.6 318.5 127.1 C325.4 126.5 336.3 126.1 344.2 125.8 C352.1 125.5 357.8 125.2 365.7 125.5 C373.6 125.8 384.3 126.8 391.4 127.9 C398.5 129.1 401.7 131.1 408.1 132.4 C414.5 133.7 423.1 134.3 430.0 135.6 C436.9 136.9 441.8 137.8 449.3 140.1 C456.8 142.3 467.5 147.0 475.0 149.1 C482.5 151.2 486.7 151.4 494.2 152.9 C501.7 154.4 509.8 156.5 520.0 158.1 C530.2 159.7 543.3 161.1 555.7 162.5 C568.1 163.9 584.3 165.8 594.2 166.4 C604.1 167.1 607.0 166.7 615.0 166.4 C623.0 166.1 632.2 166.0 642.1 164.5 C652.0 163.0 663.6 160.0 674.3 157.4 C685.0 154.8 695.7 152.9 706.4 149.1 C717.1 145.2 727.8 138.5 738.5 134.3 C749.2 130.1 762.1 126.5 770.7 124.0 C779.3 121.5 784.2 120.7 790.0 119.5 C795.8 118.3 797.7 117.6 805.7 116.9 C813.7 116.2 827.1 115.7 837.8 115.6 C848.5 115.5 860.4 115.8 870.0 116.2 C879.6 116.6 885.0 117.2 895.7 117.9 C906.4 118.7 923.5 119.7 934.2 120.7 C944.9 121.7 953.3 123.0 960.0 123.9 C966.7 124.8 969.1 124.9 974.3 126.0 C979.5 127.1 985.7 129.0 991.4 130.3 C997.1 131.6 1002.9 132.3 1008.6 133.7 C1014.3 135.1 1020.0 137.0 1025.7 138.9 C1031.4 140.8 1037.2 143.2 1042.9 144.9 C1048.6 146.6 1054.3 148.0 1060.0 149.1 C1065.7 150.2 1071.4 150.8 1077.1 151.7 C1082.8 152.6 1088.6 153.5 1094.3 154.3 C1100.0 155.1 1105.7 155.7 1111.4 156.3 C1117.1 156.9 1122.9 157.4 1128.6 158.1 C1134.3 158.8 1138.8 159.6 1145.7 160.3 C1152.6 161.0 1165.7 162.1 1169.7 162.5" stroke="#9a1fb0" stroke-width="2.2" fill="none" stroke-linejoin="round"/>
<path d="M12.5 236.8 C14.2 235.9 18.0 233.4 22.9 231.4 C27.8 229.4 34.8 227.7 42.1 225.0 C49.4 222.3 56.9 219.7 66.6 215.2 C76.2 210.7 92.3 202.2 100.0 197.8 C107.7 193.4 108.2 191.9 112.9 188.8 C117.6 185.7 123.6 182.1 128.3 179.2 C133.0 176.3 135.1 175.5 141.1 171.5 C147.1 167.5 158.7 159.1 164.3 155.4 C169.9 151.8 170.3 151.4 174.6 149.6 C178.9 147.8 183.2 147.5 190.0 144.8 C196.8 142.1 207.1 138.1 215.7 133.6 C224.3 129.1 233.9 121.6 241.4 118.1 C248.9 114.6 254.3 113.8 260.7 112.4 C267.1 111.0 273.6 110.5 280.0 109.8 C286.4 109.0 293.9 108.3 299.3 107.9 C304.7 107.5 306.8 106.6 312.1 107.2 C317.5 107.8 325.0 109.6 331.4 111.7 C337.8 113.8 342.8 117.0 350.7 120.1 C358.6 123.2 369.7 126.7 378.6 130.4 C387.5 134.2 396.8 138.9 404.3 142.6 C411.8 146.2 418.1 149.6 423.5 152.3 C428.9 155.0 431.0 156.3 436.4 158.7 C441.8 161.0 448.7 163.2 455.7 166.4 C462.7 169.6 470.9 175.2 478.6 177.8 C486.3 180.4 493.1 182.3 501.7 182.2 C510.3 182.1 518.9 179.4 530.0 177.3 C541.1 175.2 559.9 171.5 568.5 169.6 C577.1 167.7 574.5 167.4 581.4 165.7 C588.3 164.0 599.9 161.7 610.0 159.3 C620.1 157.0 631.4 154.9 642.1 151.6 C652.8 148.3 664.6 143.2 674.3 139.4 C683.9 135.7 691.4 132.0 700.0 129.1 C708.6 126.2 718.2 124.4 725.7 122.1 C733.2 119.8 736.0 117.7 745.0 115.0 C754.0 112.3 771.0 108.0 780.0 105.9 C789.0 103.9 791.8 103.7 799.3 102.7 C806.8 101.7 817.5 100.3 825.0 100.1 C832.5 99.8 838.5 100.5 844.3 101.2 C850.1 101.9 853.3 101.9 859.7 104.0 C866.1 106.1 874.7 110.5 882.8 113.6 C890.9 116.7 902.1 119.7 908.5 122.6 C914.9 125.5 916.0 128.1 921.4 131.0 C926.8 133.9 934.3 137.7 940.7 140.0 C947.1 142.3 954.4 143.6 960.0 145.1 C965.6 146.6 969.1 147.7 974.3 149.1 C979.5 150.5 985.7 152.2 991.4 153.4 C997.1 154.6 1002.9 155.1 1008.6 156.0 C1014.3 156.9 1020.6 157.6 1025.7 158.6 C1030.8 159.6 1035.1 161.2 1039.4 162.0 C1043.7 162.8 1045.1 163.2 1051.4 163.2 C1057.7 163.2 1068.5 162.6 1077.1 162.0 C1085.7 161.4 1094.9 160.4 1102.9 159.8 C1110.9 159.2 1118.1 158.5 1125.1 158.6 C1132.1 158.7 1137.5 159.8 1145.0 160.5 C1152.5 161.2 1165.8 162.4 1170.0 162.8" stroke="#9a1fb0" stroke-width="2.2" fill="none" stroke-linejoin="round"/>
<text x="20.41" y="54.5" font-size="14.3" fill="#131722" color="#131722" textLength="44.55" lengthAdjust="spacingAndGlyphs">Bitcoin</text>
<text x="70.8" y="54.5" font-size="14.3" fill="#131722" color="#131722" textLength="4.67" lengthAdjust="spacingAndGlyphs">/</text>
<text x="79.92" y="54.5" font-size="14.3" fill="#131722" color="#131722" textLength="27.43" lengthAdjust="spacingAndGlyphs">U.S.</text>
<text x="110.44" y="54.5" font-size="14.3" fill="#131722" color="#131722" textLength="40.96" lengthAdjust="spacingAndGlyphs">Dollar,</text>
<text x="155.36" y="54.5" font-size="14.3" fill="#131722" color="#131722" textLength="21.97" lengthAdjust="spacingAndGlyphs">1D,</text>
<text x="181.04" y="54.5" font-size="14.3" fill="#131722" color="#131722" textLength="43.76" lengthAdjust="spacingAndGlyphs">OANDA</text>
<text x="233.01" y="54.5" font-size="14.3" fill="#131722" color="#131722" textLength="10.1" lengthAdjust="spacingAndGlyphs">O</text>
<text x="242.72" y="54.5" font-size="14.3" fill="#26a69a" color="#26a69a" textLength="49.65" lengthAdjust="spacingAndGlyphs">30959.6</text>
<text x="300.49" y="54.5" font-size="14.3" fill="#131722" color="#131722" textLength="10.01" lengthAdjust="spacingAndGlyphs">H</text>
<text x="310.02" y="54.5" font-size="14.3" fill="#26a69a" color="#26a69a" textLength="49.75" lengthAdjust="spacingAndGlyphs">32649.8</text>
<text x="367.61" y="54.5" font-size="14.3" fill="#131722" color="#131722" textLength="7.51" lengthAdjust="spacingAndGlyphs">L</text>
<text x="374.54" y="54.5" font-size="14.3" fill="#26a69a" color="#26a69a" textLength="49.07" lengthAdjust="spacingAndGlyphs">29735.1</text>
<text x="432.81" y="54.5" font-size="14.3" fill="#131722" color="#131722" textLength="8.74" lengthAdjust="spacingAndGlyphs">C</text>
<text x="441.1" y="54.5" font-size="14.3" fill="#26a69a" color="#26a69a" textLength="50.58" lengthAdjust="spacingAndGlyphs">31187.7</text>
<text x="499.19" y="54.5" font-size="14.3" fill="#26a69a" color="#26a69a" textLength="41.1" lengthAdjust="spacingAndGlyphs">+228.1</text>
<text x="545.52" y="54.5" font-size="14.3" fill="#26a69a" color="#26a69a" textLength="53.68" lengthAdjust="spacingAndGlyphs">(+0.74%)</text>
<rect x="12" y="32" width="1376" height="530" fill="none" stroke="#d9dce3" stroke-width="1"/>
<line x1="1308.5" y1="32" x2="1308.5" y2="562" stroke="#e3e5ea" stroke-width="1"/>
<line x1="12" y1="291.5" x2="1388" y2="291.5" stroke="#e3e5ea" stroke-width="1"/>
<line x1="12" y1="410.5" x2="1388" y2="410.5" stroke="#e3e5ea" stroke-width="1"/>
<line x1="12" y1="530" x2="1388" y2="530" stroke="#e3e5ea" stroke-width="1"/>
<text x="1320.12" y="96.8" font-size="14.3" fill="#131722" color="#131722" textLength="50.1" lengthAdjust="spacingAndGlyphs">60000.0</text>
<text x="1320.27" y="134.0" font-size="14.3" fill="#131722" color="#131722" textLength="49.95" lengthAdjust="spacingAndGlyphs">50000.0</text>
<text x="1320.51" y="171.3" font-size="14.3" fill="#131722" color="#131722" textLength="49.71" lengthAdjust="spacingAndGlyphs">40000.0</text>
<text x="1319.78" y="283.0" font-size="14.3" fill="#131722" color="#131722" textLength="50.45" lengthAdjust="spacingAndGlyphs">10000.0</text>
<text x="1320.12" y="59.2" font-size="14.3" fill="#131722" color="#131722" textLength="50.1" lengthAdjust="spacingAndGlyphs">70000.0</text>
<rect x="1331.5" y="39.5" width="33.5" height="22" rx="5" fill="#ffffff" stroke="#e0e3eb" stroke-width="1"/>
<text x="1335.57" y="54.5" font-size="14.3" fill="#131722" color="#131722" textLength="25.52" lengthAdjust="spacingAndGlyphs">USD</text>
<path d="M1309 188.2 H1380.5 Q1382.7 188.2 1382.7 190.4 V223.5 Q1382.7 225.7 1380.5 225.7 H1309 Z" fill="#26a69a"/>
<text x="1321.21" y="203.8" font-size="14.3" fill="#ffffff" color="#ffffff" textLength="49.56" lengthAdjust="spacingAndGlyphs" style="stroke-width:0.45px">31187.7</text>
<text x="1320.55" y="220" font-size="14.3" fill="#d9efed" color="#d9efed" textLength="55.66" lengthAdjust="spacingAndGlyphs" style="stroke-width:0.45px">04:48:07</text>
<path d="M1309 225.9 H1375.8 Q1378 225.9 1378 228.1 V243.6 Q1378 245.8 1375.8 245.8 H1309 Z" fill="#f23645"/>
<text x="1321.22" y="240.4" font-size="14.3" fill="#ffffff" color="#ffffff" textLength="49.4" lengthAdjust="spacingAndGlyphs" style="stroke-width:0.45px">30000.0</text>
<text x="1319.6" y="328.1" font-size="14.3" fill="#131722" color="#131722" textLength="35.53" lengthAdjust="spacingAndGlyphs">80.00</text>
<text x="1319.9" y="366.9" font-size="14.3" fill="#131722" color="#131722" textLength="35.22" lengthAdjust="spacingAndGlyphs">40.00</text>
<text x="1319.64" y="405.6" font-size="14.3" fill="#131722" color="#131722" textLength="28.09" lengthAdjust="spacingAndGlyphs">0.00</text>
<text x="1319.91" y="443.8" font-size="14.3" fill="#131722" color="#131722" textLength="42.72" lengthAdjust="spacingAndGlyphs">4000.0</text>
<text x="1319.63" y="479.0" font-size="14.3" fill="#131722" color="#131722" textLength="20.62" lengthAdjust="spacingAndGlyphs">0.0</text>
<text x="1319.52" y="514.2" font-size="14.3" fill="#131722" color="#131722" textLength="50.5" lengthAdjust="spacingAndGlyphs">−4000.0</text>
<text x="114.08" y="551.6" font-size="14.3" fill="#131722" color="#131722" textLength="24.04" lengthAdjust="spacingAndGlyphs">Mar</text>
<text x="264.41" y="551.6" font-size="14.3" fill="#131722" color="#131722" textLength="25.6" lengthAdjust="spacingAndGlyphs">May</text>
<text x="412.28" y="551.6" font-size="14.3" fill="#131722" color="#131722" textLength="19.72" lengthAdjust="spacingAndGlyphs">Jul</text>
<text x="558.01" y="551.6" font-size="14.3" fill="#131722" color="#131722" textLength="23.08" lengthAdjust="spacingAndGlyphs">Sep</text>
<text x="701.22" y="551.6" font-size="14.3" fill="#131722" color="#131722" textLength="23.91" lengthAdjust="spacingAndGlyphs">Nov</text>
<text x="848.13" y="551.6" font-size="14.3" fill="#131722" color="#131722" textLength="33.05" lengthAdjust="spacingAndGlyphs" font-weight="bold" style="stroke-width:0px">2022</text>
<text x="989.69" y="551.6" font-size="14.3" fill="#131722" color="#131722" textLength="23.83" lengthAdjust="spacingAndGlyphs">Mar</text>
<text x="1136.95" y="551.6" font-size="14.3" fill="#131722" color="#131722" textLength="24.66" lengthAdjust="spacingAndGlyphs">May</text>
<clipPath id="cpt"><rect x="12" y="531" width="1296" height="31"/></clipPath>
<g clip-path="url(#cpt)">
<text x="1288.09" y="551.6" font-size="14.3" fill="#131722" color="#131722" textLength="19.19" lengthAdjust="spacingAndGlyphs">Jul</text>
</g>
<text x="11.74" y="22.8" font-size="14.3" fill="#131722" color="#131722" textLength="43.56" lengthAdjust="spacingAndGlyphs">OANDA</text>
<text x="59.61" y="22.8" font-size="14.3" fill="#131722" color="#131722" textLength="60.5" lengthAdjust="spacingAndGlyphs">published</text>
<text x="124.41" y="22.8" font-size="14.3" fill="#131722" color="#131722" textLength="15.69" lengthAdjust="spacingAndGlyphs">on</text>
<text x="144.41" y="22.8" font-size="14.3" fill="#131722" color="#131722" textLength="110.43" lengthAdjust="spacingAndGlyphs">TradingView.com,</text>
<text x="259.0" y="22.8" font-size="14.3" fill="#131722" color="#131722" textLength="23.51" lengthAdjust="spacingAndGlyphs">May</text>
<text x="287.81" y="22.8" font-size="14.3" fill="#131722" color="#131722" textLength="20.62" lengthAdjust="spacingAndGlyphs">10,</text>
<text x="312.47" y="22.8" font-size="14.3" fill="#131722" color="#131722" textLength="28.46" lengthAdjust="spacingAndGlyphs">2022</text>
<text x="345.78" y="22.8" font-size="14.3" fill="#131722" color="#131722" textLength="34.74" lengthAdjust="spacingAndGlyphs">17:10</text>
<text x="385.05" y="22.8" font-size="14.3" fill="#131722" color="#131722" textLength="39.4" lengthAdjust="spacingAndGlyphs">UTC+1</text>
<path d="M12 576.9 H20.7 V587.9 H16.1 V580.7 H12 Z" fill="#131722"/>
<circle cx="24.5" cy="579.3" r="2.2" fill="#131722"/>
<path d="M29.6 576.9 H34.4 L30 587.9 H25 Z" fill="#131722"/>
<text x="38.57" y="589" font-size="15.8" fill="#131722" color="#131722" textLength="82.78" lengthAdjust="spacingAndGlyphs" style="stroke-width:0px">TradingView</text>
</svg></body></html>
